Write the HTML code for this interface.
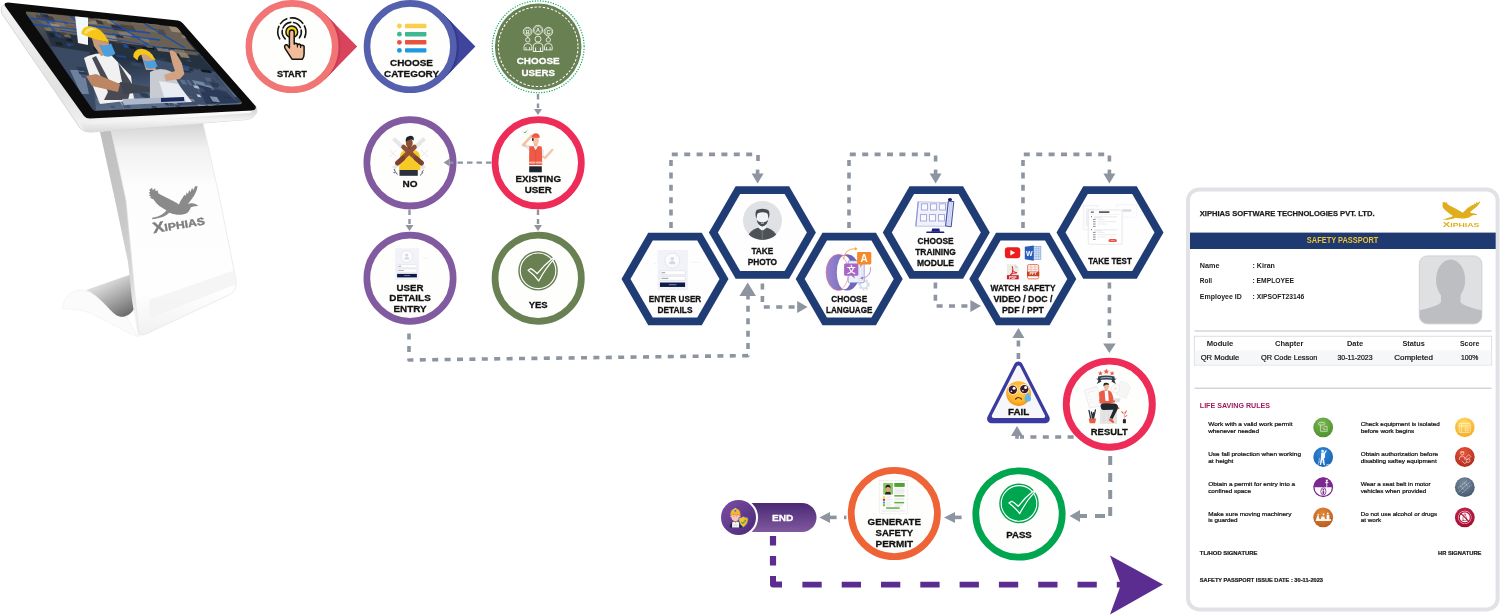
<!DOCTYPE html>
<html lang="en">
<head>
<meta charset="utf-8">
<title>Safety Induction Kiosk Flow</title>
<style>
html,body{margin:0;padding:0;background:#fff;}
body{width:1500px;height:615px;overflow:hidden;font-family:'Liberation Sans',sans-serif;}
svg{display:block;font-family:'Liberation Sans',sans-serif;will-change:transform;}
</style>
</head>
<body>
<svg width="1500" height="615" viewBox="0 0 1500 615">
<defs>
<linearGradient id="kside" x1="0" y1="0" x2="0.35" y2="1"><stop offset="0" stop-color="#BEBEBE"/><stop offset="0.55" stop-color="#C9C9C9"/><stop offset="0.85" stop-color="#DADADA"/><stop offset="1" stop-color="#F2F2F2"/></linearGradient>
<linearGradient id="kfront" x1="0" y1="0" x2="0" y2="1"><stop offset="0" stop-color="#D4D4D4"/><stop offset="0.12" stop-color="#F1F1F1"/><stop offset="0.3" stop-color="#FDFDFD"/><stop offset="0.8" stop-color="#FEFEFE"/><stop offset="1" stop-color="#F1F1F1"/></linearGradient>
<linearGradient id="kbase" x1="0.15" y1="0" x2="0.75" y2="1"><stop offset="0" stop-color="#FAFAFA"/><stop offset="0.35" stop-color="#CFCFCF"/><stop offset="0.7" stop-color="#9C9C9C"/><stop offset="1" stop-color="#6E6E6E"/></linearGradient>
<linearGradient id="kframe" x1="0" y1="0" x2="0.6" y2="1"><stop offset="0" stop-color="#F3F3F3"/><stop offset="0.6" stop-color="#E2E2E2"/><stop offset="1" stop-color="#FAFAFA"/></linearGradient>
<linearGradient id="kframeb" x1="0" y1="0" x2="0" y2="1"><stop offset="0" stop-color="#CFCFCF"/><stop offset="0.5" stop-color="#F4F4F4"/><stop offset="1" stop-color="#DADADA"/></linearGradient>
<linearGradient id="kscr" x1="0" y1="0" x2="0.25" y2="1"><stop offset="0" stop-color="#6F6558"/><stop offset="0.3" stop-color="#3E4650"/><stop offset="0.5" stop-color="#1E2A3A"/><stop offset="0.75" stop-color="#3B4B65"/><stop offset="1" stop-color="#5F718D"/></linearGradient>
<clipPath id="kclip"><path d="M27,11.5 L175,26.5 Q177,27 178,28.5 L241.5,102 Q242.5,104 240,104.3 L96,110.8 Q93.5,111 92.5,109 L26,13.5 Q25.5,11.5 27,11.5 Z"/></clipPath>
</defs>
<path d="M62,309 C64,298 70,290 80,290 C92,290 100,300 108,308 C114,315 120,318 126,316 L138,337 C120,330 100,316 84,311 C76,309 68,309 62,309 Z" fill="#FBFBFB" stroke="#EFEFEF" stroke-width="0.6"/>
<path d="M86,290 L132,274 L134,309 C130,316 122,319 116,315 C108,309 100,296 86,290 Z" fill="url(#kbase)"/>
<path d="M100,132 L111.5,130 L126,200 L140,260 L151,320 L146,330 L138,337 L132,300 L128,262 L115,200 Z" fill="url(#kside)"/>
<path d="M111,130 L203,123.5 L220,200 L236,280 Q237.5,290 230,294.5 L146,334 Q140,337 138.5,331 L126,200 Z" fill="url(#kfront)" stroke="#E4E4E4" stroke-width="0.7"/>
<path d="M149,300 L235,270 L236.5,284 L150,318 Z" fill="#F3F3F3" opacity="0.8"/>
<path d="M95,100 L125,80 L130,105 L155,85 L160,115 L180,105 L187,135 C230,160 300,195 340,215 C365,228 385,240 400,250 C410,225 420,205 432,190 L455,150 L465,165 L480,125 L490,145 L505,100 L515,125 L535,80 L545,105 L565,65 L590,65 C588,90 575,125 560,150 C545,175 515,215 490,245 C510,238 530,238 545,241 C565,243 585,250 596,266 L560,268 C545,270 530,274 520,282 C515,300 505,318 490,332 C470,348 420,358 380,355 C350,352 320,345 300,336 C285,350 265,365 250,372 C220,386 170,398 125,402 C125,392 128,388 132,385 C160,380 185,372 205,363 C230,352 255,335 270,310 C250,300 235,290 220,280 C200,265 185,255 170,240 C158,228 148,212 140,200 L105,185 L112,170 L92,160 L105,145 L90,130 L105,120 Z" fill="#8A8A8A" transform="translate(140,180) scale(0.09756)"/>
<text x="153.4" y="233.2" font-size="10.4" font-weight="bold" fill="#7E7E7E" stroke="#7E7E7E" stroke-width="0.35" transform="rotate(-9.5 153.4 233.2)" textLength="52.6" lengthAdjust="spacingAndGlyphs"><tspan font-size="15">X</tspan>IPHIAS</text>
<path d="M1.5,7 Q0.5,11 2,14 L80,128 Q84,132.5 92,132 L247,119.5 Q254,118.5 257,112 L256,106 L86,117 L6,3 Z" fill="url(#kframe)" stroke="#CFCFCF" stroke-width="0.8"/>
<path d="M78,120 L84,130 Q87,132.5 92,132 L247,119.5 Q254,118.5 257,112 L256,108 L250,113 L92,124 Z" fill="url(#kframeb)"/>
<path d="M8,2.5 L178,20.5 Q181,21 183,23.5 L255.5,106 Q257,109.5 252,110.5 L90,118.5 Q86,118.5 84,116 L5,6 Q3.5,2.5 8,2.5 Z" fill="#0C0C0D"/>
<g clip-path="url(#kclip)">
<rect x="20" y="5" width="230" height="112" fill="url(#kscr)"/>
<path d="M28,12 L176,27 L195,50 L60,38 Z" fill="#6B6054"/>
<path d="M28,18 L150,33 M40,12 L60,38 M70,16 L100,40 M110,20 L150,46 M145,24 L185,48 M30,24 L160,40" stroke="#1D4FA8" stroke-width="1.3" fill="none"/>
<path d="M45,30 L200,56 L215,72 L52,46 Z" fill="#26313F"/>
<path d="M50,46 L90,52 L96,110 L88,111 Z" fill="#3A4A63"/>
<path d="M70,70 L84,70 L89,94 L81,94 Z" fill="#6E819C"/>
<path d="M150,58 L214,72 L240,103 L170,106 Z" fill="#3F4F69"/>
<path d="M192,80 L208,83 L222,97 L204,99 Z" fill="#7387A3"/>
<path d="M196,84 L226,92 L238,103 L206,104 Z" fill="#2A3A58"/>
<rect x="93.95" y="25.39" width="10.86" height="2.22" fill="#A39480" opacity="0.7" transform="rotate(6 93.95 25.39) skewX(38)"/><rect x="102.99" y="15.92" width="9.57" height="2.11" fill="#4A433B" opacity="0.85" transform="rotate(6 102.99 15.92) skewX(38)"/><rect x="39.09" y="19.25" width="8.82" height="4.48" fill="#8C7D69" opacity="0.7" transform="rotate(6 39.09 19.25) skewX(38)"/><rect x="160.22" y="69.47" width="2.9" height="4.13" fill="#34445E" opacity="0.7" transform="rotate(6 160.22 69.47) skewX(38)"/><rect x="34.06" y="97.56" width="4.38" height="2.15" fill="#46566F" opacity="1" transform="rotate(6 34.06 97.56) skewX(38)"/><rect x="90.63" y="93.24" width="3.67" height="4.12" fill="#2B3950" opacity="0.85" transform="rotate(6 90.63 93.24) skewX(38)"/><rect x="45.05" y="82.64" width="6.17" height="4.29" fill="#3E4D66" opacity="1" transform="rotate(6 45.05 82.64) skewX(38)"/><rect x="138.85" y="89.28" width="5.53" height="5.66" fill="#1F2C42" opacity="0.85" transform="rotate(6 138.85 89.28) skewX(38)"/><rect x="77.66" y="28.34" width="12.02" height="2.25" fill="#6E6355" opacity="1" transform="rotate(6 77.66 28.34) skewX(38)"/><rect x="130.95" y="45.03" width="9.04" height="3.83" fill="#8C7D69" opacity="0.7" transform="rotate(6 130.95 45.03) skewX(38)"/><rect x="134.58" y="26.83" width="8.08" height="4.8" fill="#4A433B" opacity="0.7" transform="rotate(6 134.58 26.83) skewX(38)"/><rect x="231.8" y="17.92" width="10.02" height="4.37" fill="#7A6C5B" opacity="0.85" transform="rotate(6 231.8 17.92) skewX(38)"/><rect x="97.47" y="45.72" width="7.97" height="3.03" fill="#17212E" opacity="0.7" transform="rotate(6 97.47 45.72) skewX(38)"/><rect x="228.05" y="58.36" width="10.98" height="2.18" fill="#2E2F36" opacity="0.85" transform="rotate(6 228.05 58.36) skewX(38)"/><rect x="163.78" y="111.3" width="7.84" height="2.78" fill="#B9C8DC" opacity="1" transform="rotate(6 163.78 111.3) skewX(38)"/><rect x="98.95" y="105.95" width="4.81" height="4.25" fill="#3E4D66" opacity="0.7" transform="rotate(6 98.95 105.95) skewX(38)"/><rect x="71.13" y="39.32" width="9.91" height="2.12" fill="#1B4C9E" opacity="0.7" transform="rotate(6 71.13 39.32) skewX(38)"/><rect x="59.94" y="50.97" width="6.22" height="1.51" fill="#1B4C9E" opacity="1" transform="rotate(6 59.94 50.97) skewX(38)"/><rect x="84.14" y="52.36" width="6.87" height="3.23" fill="#223046" opacity="0.7" transform="rotate(6 84.14 52.36) skewX(38)"/><rect x="41.92" y="25.43" width="10.93" height="2.04" fill="#7A6C5B" opacity="1" transform="rotate(6 41.92 25.43) skewX(38)"/><rect x="63.39" y="38.76" width="5.17" height="2.43" fill="#3A4A60" opacity="1" transform="rotate(6 63.39 38.76) skewX(38)"/><rect x="92.82" y="22.8" width="12.73" height="4.85" fill="#2E2F36" opacity="1" transform="rotate(6 92.82 22.8) skewX(38)"/><rect x="183.79" y="56.58" width="10.97" height="3.39" fill="#101820" opacity="1" transform="rotate(6 183.79 56.58) skewX(38)"/><rect x="108.75" y="50.7" width="4.83" height="2.66" fill="#17212E" opacity="0.7" transform="rotate(6 108.75 50.7) skewX(38)"/><rect x="38.55" y="31.29" width="6.46" height="3.02" fill="#8C7D69" opacity="0.7" transform="rotate(6 38.55 31.29) skewX(38)"/><rect x="24.05" y="25.43" width="5.91" height="3.09" fill="#8C7D69" opacity="0.7" transform="rotate(6 24.05 25.43) skewX(38)"/><rect x="212.86" y="72.64" width="5.19" height="1.78" fill="#2C3D58" opacity="1" transform="rotate(6 212.86 72.64) skewX(38)"/><rect x="102.66" y="22.53" width="12.64" height="4.98" fill="#4A433B" opacity="0.85" transform="rotate(6 102.66 22.53) skewX(38)"/><rect x="128.51" y="18.76" width="5.92" height="3.03" fill="#6E6355" opacity="0.85" transform="rotate(6 128.51 18.76) skewX(38)"/><rect x="203.03" y="26.47" width="5.21" height="4.85" fill="#A39480" opacity="0.85" transform="rotate(6 203.03 26.47) skewX(38)"/><rect x="55.67" y="65.4" width="2.68" height="3.88" fill="#46566F" opacity="1" transform="rotate(6 55.67 65.4) skewX(38)"/><rect x="206.62" y="62.88" width="11.27" height="2.02" fill="#223046" opacity="1" transform="rotate(6 206.62 62.88) skewX(38)"/><rect x="140.98" y="61.28" width="9.09" height="2.61" fill="#223046" opacity="0.7" transform="rotate(6 140.98 61.28) skewX(38)"/><rect x="200.76" y="85.47" width="3.97" height="3.83" fill="#1F2C42" opacity="1" transform="rotate(6 200.76 85.47) skewX(38)"/><rect x="30.26" y="12.85" width="7.51" height="2.78" fill="#2E2F36" opacity="1" transform="rotate(6 30.26 12.85) skewX(38)"/><rect x="230.61" y="55.62" width="13.43" height="4.96" fill="#6E6355" opacity="0.7" transform="rotate(6 230.61 55.62) skewX(38)"/><rect x="71.62" y="33.14" width="6.77" height="2.61" fill="#A39480" opacity="1" transform="rotate(6 71.62 33.14) skewX(38)"/><rect x="205.53" y="58.91" width="9.22" height="3.04" fill="#17212E" opacity="1" transform="rotate(6 205.53 58.91) skewX(38)"/><rect x="49.9" y="49.63" width="9.69" height="1.66" fill="#223046" opacity="0.85" transform="rotate(6 49.9 49.63) skewX(38)"/><rect x="194.45" y="43.92" width="12.21" height="4.91" fill="#4A433B" opacity="0.85" transform="rotate(6 194.45 43.92) skewX(38)"/><rect x="110.7" y="106.57" width="7.21" height="2.27" fill="#5C6E88" opacity="0.7" transform="rotate(6 110.7 106.57) skewX(38)"/><rect x="56.65" y="102.29" width="7.74" height="2.16" fill="#27354C" opacity="0.85" transform="rotate(6 56.65 102.29) skewX(38)"/><rect x="165.97" y="45.74" width="9.94" height="2.39" fill="#8C7D69" opacity="1" transform="rotate(6 165.97 45.74) skewX(38)"/><rect x="164.33" y="63.71" width="11.47" height="2.2" fill="#223046" opacity="0.7" transform="rotate(6 164.33 63.71) skewX(38)"/><rect x="30.05" y="31.7" width="8.01" height="2.96" fill="#2C3D58" opacity="0.85" transform="rotate(6 30.05 31.7) skewX(38)"/><rect x="141.58" y="95.09" width="2.9" height="4.83" fill="#3E4D66" opacity="1" transform="rotate(6 141.58 95.09) skewX(38)"/><rect x="150" y="102.24" width="5.23" height="5.63" fill="#74869F" opacity="0.7" transform="rotate(6 150 102.24) skewX(38)"/><rect x="138.87" y="63.4" width="4.15" height="2.21" fill="#223046" opacity="1" transform="rotate(6 138.87 63.4) skewX(38)"/><rect x="24.85" y="91.52" width="3.62" height="3.63" fill="#46566F" opacity="1" transform="rotate(6 24.85 91.52) skewX(38)"/><rect x="37.34" y="79.6" width="5.95" height="3.67" fill="#46566F" opacity="1" transform="rotate(6 37.34 79.6) skewX(38)"/><rect x="36.27" y="29.51" width="5.38" height="2.29" fill="#4A433B" opacity="1" transform="rotate(6 36.27 29.51) skewX(38)"/><rect x="30.02" y="101.19" width="2.91" height="2.97" fill="#74869F" opacity="1" transform="rotate(6 30.02 101.19) skewX(38)"/><rect x="134.63" y="80.66" width="5.44" height="3.9" fill="#3E4D66" opacity="1" transform="rotate(6 134.63 80.66) skewX(38)"/><rect x="227.36" y="81.32" width="8.2" height="5.74" fill="#8FA2BD" opacity="1" transform="rotate(6 227.36 81.32) skewX(38)"/><rect x="216.84" y="30.66" width="9.03" height="3.25" fill="#4A433B" opacity="0.85" transform="rotate(6 216.84 30.66) skewX(38)"/><rect x="92.25" y="78.46" width="5.28" height="2.46" fill="#8FA2BD" opacity="0.7" transform="rotate(6 92.25 78.46) skewX(38)"/><rect x="217.76" y="25.75" width="11.45" height="3.98" fill="#9A8A74" opacity="0.85" transform="rotate(6 217.76 25.75) skewX(38)"/><rect x="214.69" y="108.69" width="3.93" height="5.79" fill="#B9C8DC" opacity="0.85" transform="rotate(6 214.69 108.69) skewX(38)"/><rect x="59.16" y="78.12" width="3.95" height="4.68" fill="#74869F" opacity="0.85" transform="rotate(6 59.16 78.12) skewX(38)"/><rect x="97.25" y="29.97" width="7.87" height="4.17" fill="#8C7D69" opacity="0.85" transform="rotate(6 97.25 29.97) skewX(38)"/><rect x="143.67" y="54.93" width="4.14" height="1.96" fill="#3A4A60" opacity="0.85" transform="rotate(6 143.67 54.93) skewX(38)"/><rect x="134.65" y="16.56" width="13.87" height="4.37" fill="#8C7D69" opacity="0.7" transform="rotate(6 134.65 16.56) skewX(38)"/><rect x="81.36" y="14.04" width="12.01" height="2.81" fill="#9A8A74" opacity="0.85" transform="rotate(6 81.36 14.04) skewX(38)"/><rect x="207.51" y="78.95" width="8.65" height="3.33" fill="#74869F" opacity="1" transform="rotate(6 207.51 78.95) skewX(38)"/><rect x="147.25" y="81.44" width="3.08" height="1.76" fill="#5C6E88" opacity="0.85" transform="rotate(6 147.25 81.44) skewX(38)"/><rect x="217.38" y="37.43" width="5.15" height="2.27" fill="#6E6355" opacity="0.7" transform="rotate(6 217.38 37.43) skewX(38)"/><rect x="155.37" y="32.69" width="7.38" height="2.37" fill="#8C7D69" opacity="0.85" transform="rotate(6 155.37 32.69) skewX(38)"/><rect x="238.77" y="52.61" width="13.24" height="3.87" fill="#8C7D69" opacity="1" transform="rotate(6 238.77 52.61) skewX(38)"/><rect x="177.26" y="105.69" width="8.8" height="2.68" fill="#5C6E88" opacity="0.7" transform="rotate(6 177.26 105.69) skewX(38)"/><rect x="225.37" y="74.12" width="8.25" height="1.67" fill="#1B4C9E" opacity="1" transform="rotate(6 225.37 74.12) skewX(38)"/><rect x="169.19" y="37.59" width="12.23" height="4.98" fill="#8C7D69" opacity="0.7" transform="rotate(6 169.19 37.59) skewX(38)"/><rect x="27.98" y="61.58" width="8.86" height="3.81" fill="#2B3950" opacity="0.85" transform="rotate(6 27.98 61.58) skewX(38)"/><rect x="46.96" y="93.53" width="5.31" height="3.73" fill="#B9C8DC" opacity="1" transform="rotate(6 46.96 93.53) skewX(38)"/><rect x="90.48" y="31.95" width="7.07" height="2.6" fill="#2E2F36" opacity="1" transform="rotate(6 90.48 31.95) skewX(38)"/><rect x="161.37" y="51.28" width="8.13" height="2.16" fill="#9A8A74" opacity="0.7" transform="rotate(6 161.37 51.28) skewX(38)"/><rect x="39.28" y="85.57" width="4.16" height="2.23" fill="#46566F" opacity="1" transform="rotate(6 39.28 85.57) skewX(38)"/><rect x="205.71" y="98.79" width="6.86" height="2.77" fill="#2B3950" opacity="1" transform="rotate(6 205.71 98.79) skewX(38)"/><rect x="87.3" y="56.86" width="5.26" height="2.23" fill="#2C3D58" opacity="0.85" transform="rotate(6 87.3 56.86) skewX(38)"/><rect x="231.75" y="109.21" width="6.06" height="2.6" fill="#8FA2BD" opacity="0.7" transform="rotate(6 231.75 109.21) skewX(38)"/><rect x="101.02" y="10.11" width="8.43" height="3.42" fill="#A39480" opacity="1" transform="rotate(6 101.02 10.11) skewX(38)"/><rect x="67.41" y="61.48" width="2.53" height="2.69" fill="#46566F" opacity="0.7" transform="rotate(6 67.41 61.48) skewX(38)"/><rect x="110.29" y="14.25" width="5.2" height="2.91" fill="#9A8A74" opacity="0.7" transform="rotate(6 110.29 14.25) skewX(38)"/><rect x="150.49" y="63.98" width="10" height="2.71" fill="#101820" opacity="1" transform="rotate(6 150.49 63.98) skewX(38)"/><rect x="108.14" y="43.27" width="11.88" height="1.54" fill="#101820" opacity="1" transform="rotate(6 108.14 43.27) skewX(38)"/><rect x="162.94" y="14.47" width="12.52" height="4.68" fill="#2E2F36" opacity="0.85" transform="rotate(6 162.94 14.47) skewX(38)"/><rect x="182.51" y="92.85" width="3.41" height="3.86" fill="#74869F" opacity="1" transform="rotate(6 182.51 92.85) skewX(38)"/><rect x="204.35" y="92.08" width="7.87" height="4.13" fill="#2B3950" opacity="0.7" transform="rotate(6 204.35 92.08) skewX(38)"/><rect x="30.73" y="23.58" width="8.25" height="2.31" fill="#7A6C5B" opacity="0.85" transform="rotate(6 30.73 23.58) skewX(38)"/><rect x="144.64" y="74.03" width="6.57" height="4.56" fill="#3E4D66" opacity="0.85" transform="rotate(6 144.64 74.03) skewX(38)"/><rect x="24.72" y="91.37" width="7.36" height="3.76" fill="#74869F" opacity="0.7" transform="rotate(6 24.72 91.37) skewX(38)"/><rect x="166.41" y="16.74" width="11.63" height="2.76" fill="#8C7D69" opacity="0.85" transform="rotate(6 166.41 16.74) skewX(38)"/><rect x="74.71" y="87.16" width="4" height="4.42" fill="#3E4D66" opacity="0.85" transform="rotate(6 74.71 87.16) skewX(38)"/><rect x="206.63" y="17.83" width="13.19" height="2.86" fill="#8C7D69" opacity="1" transform="rotate(6 206.63 17.83) skewX(38)"/><rect x="160.68" y="30.23" width="10.4" height="3" fill="#2E2F36" opacity="1" transform="rotate(6 160.68 30.23) skewX(38)"/><rect x="173.66" y="73.36" width="3.37" height="3.67" fill="#3E4D66" opacity="0.85" transform="rotate(6 173.66 73.36) skewX(38)"/><rect x="234.06" y="20.15" width="6.96" height="3.47" fill="#2E2F36" opacity="1" transform="rotate(6 234.06 20.15) skewX(38)"/><rect x="85.68" y="57.52" width="10.14" height="3.48" fill="#3A4A60" opacity="0.7" transform="rotate(6 85.68 57.52) skewX(38)"/><rect x="91.32" y="18.76" width="9.26" height="2.87" fill="#8C7D69" opacity="1" transform="rotate(6 91.32 18.76) skewX(38)"/><rect x="233.11" y="55.84" width="7.42" height="2.63" fill="#9A8A74" opacity="0.7" transform="rotate(6 233.11 55.84) skewX(38)"/><rect x="149.6" y="24.46" width="9.72" height="4.86" fill="#9A8A74" opacity="1" transform="rotate(6 149.6 24.46) skewX(38)"/><rect x="201.17" y="61.89" width="11.09" height="2.82" fill="#223046" opacity="0.85" transform="rotate(6 201.17 61.89) skewX(38)"/><rect x="217.9" y="59.59" width="5.22" height="2.01" fill="#4A433B" opacity="1" transform="rotate(6 217.9 59.59) skewX(38)"/><rect x="121.36" y="40.8" width="6.27" height="3.03" fill="#6E6355" opacity="0.7" transform="rotate(6 121.36 40.8) skewX(38)"/><rect x="205.49" y="10.18" width="11.76" height="4.52" fill="#8C7D69" opacity="0.7" transform="rotate(6 205.49 10.18) skewX(38)"/><rect x="178.01" y="101.96" width="4.38" height="3.17" fill="#B9C8DC" opacity="0.85" transform="rotate(6 178.01 101.96) skewX(38)"/><rect x="239.74" y="70.1" width="6.89" height="2.18" fill="#2C3D58" opacity="0.7" transform="rotate(6 239.74 70.1) skewX(38)"/><rect x="84.62" y="15.26" width="10.96" height="3.9" fill="#9A8A74" opacity="0.7" transform="rotate(6 84.62 15.26) skewX(38)"/><rect x="233.74" y="54.5" width="7.84" height="4.32" fill="#7A6C5B" opacity="0.85" transform="rotate(6 233.74 54.5) skewX(38)"/><rect x="215" y="92.82" width="6.6" height="5.61" fill="#74869F" opacity="1" transform="rotate(6 215 92.82) skewX(38)"/><rect x="67.94" y="18.22" width="13.4" height="3.23" fill="#A39480" opacity="0.7" transform="rotate(6 67.94 18.22) skewX(38)"/><rect x="163.21" y="39.19" width="5.44" height="4.78" fill="#9A8A74" opacity="0.7" transform="rotate(6 163.21 39.19) skewX(38)"/><rect x="125.99" y="45.05" width="7.68" height="4.22" fill="#2E2F36" opacity="0.85" transform="rotate(6 125.99 45.05) skewX(38)"/><rect x="111.74" y="34.34" width="9.35" height="4.01" fill="#8C7D69" opacity="0.7" transform="rotate(6 111.74 34.34) skewX(38)"/><rect x="162.93" y="17.67" width="9.51" height="4.44" fill="#A39480" opacity="0.7" transform="rotate(6 162.93 17.67) skewX(38)"/><rect x="121.84" y="43.95" width="11.83" height="3.28" fill="#A39480" opacity="0.7" transform="rotate(6 121.84 43.95) skewX(38)"/><rect x="76.72" y="27.82" width="10" height="2.96" fill="#6E6355" opacity="0.85" transform="rotate(6 76.72 27.82) skewX(38)"/><rect x="198.82" y="30.62" width="5.18" height="4.61" fill="#4A433B" opacity="0.85" transform="rotate(6 198.82 30.62) skewX(38)"/><rect x="185.1" y="31.42" width="7.43" height="4.26" fill="#4A433B" opacity="0.85" transform="rotate(6 185.1 31.42) skewX(38)"/><rect x="148.04" y="46.73" width="11.18" height="3.59" fill="#7A6C5B" opacity="0.7" transform="rotate(6 148.04 46.73) skewX(38)"/><rect x="44" y="101.47" width="5" height="4.41" fill="#B9C8DC" opacity="0.85" transform="rotate(6 44 101.47) skewX(38)"/><rect x="207.32" y="99.03" width="2.64" height="1.65" fill="#3E4D66" opacity="1" transform="rotate(6 207.32 99.03) skewX(38)"/><rect x="129.8" y="17.46" width="13.37" height="4.78" fill="#A39480" opacity="0.85" transform="rotate(6 129.8 17.46) skewX(38)"/><rect x="234" y="35.34" width="5.98" height="2.46" fill="#A39480" opacity="1" transform="rotate(6 234 35.34) skewX(38)"/><rect x="47.52" y="94.19" width="7.06" height="5.31" fill="#3E4D66" opacity="0.7" transform="rotate(6 47.52 94.19) skewX(38)"/><rect x="143.12" y="14.03" width="12.04" height="2.7" fill="#8C7D69" opacity="1" transform="rotate(6 143.12 14.03) skewX(38)"/><rect x="178.44" y="108.17" width="6.57" height="3.88" fill="#B9C8DC" opacity="1" transform="rotate(6 178.44 108.17) skewX(38)"/><rect x="188.99" y="20.14" width="7.7" height="4.83" fill="#9A8A74" opacity="0.85" transform="rotate(6 188.99 20.14) skewX(38)"/><rect x="80.35" y="90.63" width="2.51" height="3.92" fill="#3E4D66" opacity="0.85" transform="rotate(6 80.35 90.63) skewX(38)"/><rect x="231.13" y="75.75" width="11.07" height="2.29" fill="#223046" opacity="1" transform="rotate(6 231.13 75.75) skewX(38)"/><rect x="77.36" y="107.98" width="7.08" height="2.88" fill="#34445E" opacity="0.7" transform="rotate(6 77.36 107.98) skewX(38)"/><rect x="131.64" y="78.8" width="5.23" height="2.66" fill="#B9C8DC" opacity="0.85" transform="rotate(6 131.64 78.8) skewX(38)"/><rect x="72.99" y="13.48" width="8.04" height="3.26" fill="#2E2F36" opacity="0.85" transform="rotate(6 72.99 13.48) skewX(38)"/><rect x="66.79" y="91.3" width="7.3" height="3.77" fill="#2B3950" opacity="0.85" transform="rotate(6 66.79 91.3) skewX(38)"/><rect x="233.49" y="41.8" width="12.38" height="2.69" fill="#9A8A74" opacity="0.85" transform="rotate(6 233.49 41.8) skewX(38)"/><rect x="188.26" y="40.08" width="13.57" height="3.49" fill="#9A8A74" opacity="0.7" transform="rotate(6 188.26 40.08) skewX(38)"/><rect x="128.77" y="102.86" width="2.87" height="4.18" fill="#B9C8DC" opacity="0.7" transform="rotate(6 128.77 102.86) skewX(38)"/><rect x="70" y="109.36" width="3.42" height="1.73" fill="#34445E" opacity="0.7" transform="rotate(6 70 109.36) skewX(38)"/><rect x="108.96" y="101.61" width="8.24" height="4.8" fill="#46566F" opacity="0.7" transform="rotate(6 108.96 101.61) skewX(38)"/><rect x="95.12" y="28.92" width="13.42" height="4.24" fill="#8C7D69" opacity="0.85" transform="rotate(6 95.12 28.92) skewX(38)"/><rect x="167.52" y="48.62" width="8.36" height="3" fill="#9A8A74" opacity="0.7" transform="rotate(6 167.52 48.62) skewX(38)"/><rect x="24.62" y="38.54" width="6.81" height="3.4" fill="#17212E" opacity="1" transform="rotate(6 24.62 38.54) skewX(38)"/><rect x="232.28" y="31.16" width="8.21" height="4.46" fill="#7A6C5B" opacity="0.85" transform="rotate(6 232.28 31.16) skewX(38)"/><rect x="42.96" y="81.94" width="3.77" height="3.94" fill="#3E4D66" opacity="0.7" transform="rotate(6 42.96 81.94) skewX(38)"/><rect x="93.83" y="85.21" width="5.58" height="4.34" fill="#2B3950" opacity="1" transform="rotate(6 93.83 85.21) skewX(38)"/><rect x="189.6" y="14.15" width="5.31" height="2.19" fill="#8C7D69" opacity="0.85" transform="rotate(6 189.6 14.15) skewX(38)"/><rect x="66.11" y="16.41" width="10.45" height="3.09" fill="#6E6355" opacity="1" transform="rotate(6 66.11 16.41) skewX(38)"/><rect x="33.41" y="86.14" width="6.98" height="5.66" fill="#8FA2BD" opacity="0.7" transform="rotate(6 33.41 86.14) skewX(38)"/><rect x="179.86" y="70.75" width="7.74" height="5.76" fill="#46566F" opacity="0.7" transform="rotate(6 179.86 70.75) skewX(38)"/><rect x="202.42" y="20.94" width="11.44" height="3.4" fill="#7A6C5B" opacity="0.85" transform="rotate(6 202.42 20.94) skewX(38)"/><rect x="194.6" y="103.18" width="7.8" height="2.1" fill="#3E4D66" opacity="0.7" transform="rotate(6 194.6 103.18) skewX(38)"/><rect x="25.88" y="104.97" width="4.47" height="4.61" fill="#5C6E88" opacity="1" transform="rotate(6 25.88 104.97) skewX(38)"/><rect x="75.01" y="97.85" width="5.5" height="5.03" fill="#27354C" opacity="0.7" transform="rotate(6 75.01 97.85) skewX(38)"/><rect x="134.57" y="49.95" width="5.28" height="2.14" fill="#101820" opacity="0.7" transform="rotate(6 134.57 49.95) skewX(38)"/><rect x="128.05" y="65.55" width="3.54" height="3.42" fill="#46566F" opacity="0.7" transform="rotate(6 128.05 65.55) skewX(38)"/><rect x="81.22" y="18.58" width="5.87" height="3.5" fill="#2E2F36" opacity="0.85" transform="rotate(6 81.22 18.58) skewX(38)"/><rect x="61.41" y="23.56" width="9.15" height="4.67" fill="#9A8A74" opacity="1" transform="rotate(6 61.41 23.56) skewX(38)"/><rect x="140.33" y="88.94" width="7.44" height="5.01" fill="#8FA2BD" opacity="0.85" transform="rotate(6 140.33 88.94) skewX(38)"/><rect x="84.35" y="37.3" width="7.29" height="2.78" fill="#4A433B" opacity="0.7" transform="rotate(6 84.35 37.3) skewX(38)"/><rect x="64.12" y="34.02" width="7.53" height="4.72" fill="#9A8A74" opacity="0.85" transform="rotate(6 64.12 34.02) skewX(38)"/><rect x="38" y="35.67" width="5.97" height="2.41" fill="#101820" opacity="0.7" transform="rotate(6 38 35.67) skewX(38)"/><rect x="165.12" y="111.08" width="3.17" height="3.64" fill="#2B3950" opacity="0.85" transform="rotate(6 165.12 111.08) skewX(38)"/><rect x="221.51" y="14.12" width="7.64" height="2.36" fill="#9A8A74" opacity="1" transform="rotate(6 221.51 14.12) skewX(38)"/><rect x="234.16" y="69.49" width="11.44" height="2.06" fill="#223046" opacity="0.85" transform="rotate(6 234.16 69.49) skewX(38)"/><rect x="154.26" y="89.05" width="6.82" height="1.53" fill="#27354C" opacity="1" transform="rotate(6 154.26 89.05) skewX(38)"/><rect x="157.91" y="32.2" width="8.32" height="2.42" fill="#9A8A74" opacity="0.85" transform="rotate(6 157.91 32.2) skewX(38)"/><rect x="32.26" y="84.69" width="8.44" height="5.17" fill="#1F2C42" opacity="0.85" transform="rotate(6 32.26 84.69) skewX(38)"/><rect x="170.52" y="28.88" width="7.81" height="2.61" fill="#7A6C5B" opacity="0.85" transform="rotate(6 170.52 28.88) skewX(38)"/><rect x="142.38" y="16.45" width="5.91" height="3.19" fill="#A39480" opacity="0.7" transform="rotate(6 142.38 16.45) skewX(38)"/><rect x="162.06" y="19.3" width="6.47" height="4.09" fill="#4A433B" opacity="0.85" transform="rotate(6 162.06 19.3) skewX(38)"/><rect x="168.25" y="52.62" width="5.46" height="4.24" fill="#6E6355" opacity="0.85" transform="rotate(6 168.25 52.62) skewX(38)"/><rect x="113.95" y="98.15" width="8.98" height="3.14" fill="#2B3950" opacity="0.85" transform="rotate(6 113.95 98.15) skewX(38)"/><rect x="181.25" y="30.77" width="5.05" height="4.7" fill="#4A433B" opacity="0.7" transform="rotate(6 181.25 30.77) skewX(38)"/><rect x="201.2" y="51.43" width="12.95" height="3.38" fill="#9A8A74" opacity="0.7" transform="rotate(6 201.2 51.43) skewX(38)"/><rect x="27.2" y="66.26" width="6.66" height="5.59" fill="#46566F" opacity="1" transform="rotate(6 27.2 66.26) skewX(38)"/><rect x="158.39" y="47.83" width="9.54" height="2.44" fill="#6E6355" opacity="0.7" transform="rotate(6 158.39 47.83) skewX(38)"/><rect x="136.57" y="104.4" width="3.21" height="3.71" fill="#2B3950" opacity="0.85" transform="rotate(6 136.57 104.4) skewX(38)"/><rect x="51.36" y="106.19" width="8.84" height="3.67" fill="#34445E" opacity="1" transform="rotate(6 51.36 106.19) skewX(38)"/><rect x="224.05" y="49.57" width="13.14" height="3.86" fill="#7A6C5B" opacity="0.7" transform="rotate(6 224.05 49.57) skewX(38)"/><rect x="162.31" y="97.37" width="6.54" height="4.27" fill="#2B3950" opacity="0.85" transform="rotate(6 162.31 97.37) skewX(38)"/><rect x="63.52" y="32.25" width="8.6" height="3.55" fill="#4A433B" opacity="0.85" transform="rotate(6 63.52 32.25) skewX(38)"/><rect x="50.58" y="35.2" width="9.8" height="3.26" fill="#17212E" opacity="1" transform="rotate(6 50.58 35.2) skewX(38)"/><rect x="205.98" y="78.57" width="6.84" height="2.96" fill="#B9C8DC" opacity="1" transform="rotate(6 205.98 78.57) skewX(38)"/><rect x="122.44" y="96.6" width="7.56" height="4.42" fill="#8FA2BD" opacity="1" transform="rotate(6 122.44 96.6) skewX(38)"/><rect x="77.84" y="49.7" width="6.94" height="2.36" fill="#223046" opacity="0.7" transform="rotate(6 77.84 49.7) skewX(38)"/><rect x="24.76" y="110.59" width="5.52" height="3.51" fill="#27354C" opacity="0.85" transform="rotate(6 24.76 110.59) skewX(38)"/><rect x="204.69" y="92.67" width="5.1" height="1.8" fill="#1F2C42" opacity="0.85" transform="rotate(6 204.69 92.67) skewX(38)"/><rect x="102.91" y="91.83" width="5.78" height="4.46" fill="#34445E" opacity="1" transform="rotate(6 102.91 91.83) skewX(38)"/><rect x="52.14" y="104.06" width="4.54" height="4.74" fill="#46566F" opacity="0.7" transform="rotate(6 52.14 104.06) skewX(38)"/><rect x="186.44" y="101.28" width="6.74" height="5.03" fill="#34445E" opacity="0.7" transform="rotate(6 186.44 101.28) skewX(38)"/><rect x="239.16" y="84.67" width="7.8" height="2.37" fill="#3E4D66" opacity="0.85" transform="rotate(6 239.16 84.67) skewX(38)"/><rect x="230.63" y="103.44" width="3.57" height="5.05" fill="#2B3950" opacity="0.7" transform="rotate(6 230.63 103.44) skewX(38)"/><rect x="203.94" y="72.27" width="6.02" height="1.94" fill="#3A4A60" opacity="0.85" transform="rotate(6 203.94 72.27) skewX(38)"/><rect x="219.49" y="56.55" width="7.29" height="4.89" fill="#4A433B" opacity="0.7" transform="rotate(6 219.49 56.55) skewX(38)"/><rect x="151.85" y="72.82" width="4.04" height="3.18" fill="#2B3950" opacity="0.7" transform="rotate(6 151.85 72.82) skewX(38)"/><rect x="111.15" y="74.93" width="4.31" height="2.98" fill="#B9C8DC" opacity="0.7" transform="rotate(6 111.15 74.93) skewX(38)"/><rect x="195.1" y="36.96" width="11.91" height="2.15" fill="#7A6C5B" opacity="0.85" transform="rotate(6 195.1 36.96) skewX(38)"/><rect x="232.69" y="56.21" width="9.69" height="4.07" fill="#8C7D69" opacity="0.85" transform="rotate(6 232.69 56.21) skewX(38)"/><rect x="238.48" y="74.24" width="7.15" height="3.03" fill="#2C3D58" opacity="0.85" transform="rotate(6 238.48 74.24) skewX(38)"/><rect x="237.95" y="68.89" width="6.88" height="2.96" fill="#1B4C9E" opacity="0.7" transform="rotate(6 237.95 68.89) skewX(38)"/><rect x="62.18" y="85.85" width="2.81" height="5.19" fill="#8FA2BD" opacity="0.85" transform="rotate(6 62.18 85.85) skewX(38)"/><rect x="162.08" y="110.37" width="6.31" height="4.49" fill="#1F2C42" opacity="1" transform="rotate(6 162.08 110.37) skewX(38)"/><rect x="24.39" y="13.45" width="6.34" height="3.85" fill="#4A433B" opacity="0.85" transform="rotate(6 24.39 13.45) skewX(38)"/><rect x="134.74" y="101.35" width="3.36" height="2.52" fill="#34445E" opacity="0.7" transform="rotate(6 134.74 101.35) skewX(38)"/><rect x="35.75" y="67.85" width="4.47" height="3.85" fill="#74869F" opacity="0.7" transform="rotate(6 35.75 67.85) skewX(38)"/><rect x="113.26" y="40.72" width="6.2" height="3.1" fill="#7A6C5B" opacity="0.85" transform="rotate(6 113.26 40.72) skewX(38)"/><rect x="58.26" y="11.44" width="12.21" height="4.12" fill="#4A433B" opacity="0.7" transform="rotate(6 58.26 11.44) skewX(38)"/><rect x="37.75" y="24.76" width="10.99" height="2.81" fill="#7A6C5B" opacity="0.85" transform="rotate(6 37.75 24.76) skewX(38)"/><rect x="232.9" y="15.73" width="12.39" height="4.68" fill="#A39480" opacity="1" transform="rotate(6 232.9 15.73) skewX(38)"/><rect x="148.95" y="71.39" width="5.86" height="3.72" fill="#5C6E88" opacity="0.7" transform="rotate(6 148.95 71.39) skewX(38)"/><rect x="33.5" y="64.22" width="5.14" height="2.57" fill="#34445E" opacity="0.7" transform="rotate(6 33.5 64.22) skewX(38)"/><rect x="26.67" y="66.19" width="8.62" height="2.14" fill="#2B3950" opacity="1" transform="rotate(6 26.67 66.19) skewX(38)"/><rect x="155.35" y="61.71" width="9.13" height="3.07" fill="#223046" opacity="1" transform="rotate(6 155.35 61.71) skewX(38)"/><rect x="90.83" y="40.63" width="4.39" height="3.25" fill="#1B4C9E" opacity="1" transform="rotate(6 90.83 40.63) skewX(38)"/><rect x="140.3" y="48.27" width="8.93" height="4.74" fill="#8C7D69" opacity="1" transform="rotate(6 140.3 48.27) skewX(38)"/><rect x="165.59" y="27.89" width="13.97" height="2.78" fill="#2E2F36" opacity="0.7" transform="rotate(6 165.59 27.89) skewX(38)"/><rect x="50.63" y="100.91" width="8.51" height="5.74" fill="#8FA2BD" opacity="1" transform="rotate(6 50.63 100.91) skewX(38)"/><rect x="35.35" y="74.86" width="6.92" height="4.59" fill="#74869F" opacity="0.85" transform="rotate(6 35.35 74.86) skewX(38)"/><rect x="87.85" y="104.71" width="8.31" height="1.88" fill="#74869F" opacity="0.7" transform="rotate(6 87.85 104.71) skewX(38)"/><rect x="60.67" y="102.28" width="7.97" height="2.41" fill="#5C6E88" opacity="1" transform="rotate(6 60.67 102.28) skewX(38)"/><rect x="221.63" y="29.58" width="8.5" height="3.8" fill="#4A433B" opacity="1" transform="rotate(6 221.63 29.58) skewX(38)"/><rect x="223.08" y="110.13" width="7.97" height="3.91" fill="#3E4D66" opacity="1" transform="rotate(6 223.08 110.13) skewX(38)"/><rect x="174.69" y="97.47" width="5.34" height="4.76" fill="#27354C" opacity="0.85" transform="rotate(6 174.69 97.47) skewX(38)"/><rect x="194.47" y="49.94" width="10.27" height="3.7" fill="#9A8A74" opacity="0.7" transform="rotate(6 194.47 49.94) skewX(38)"/><rect x="31.11" y="21.41" width="10.6" height="2.49" fill="#9A8A74" opacity="1" transform="rotate(6 31.11 21.41) skewX(38)"/><rect x="30.21" y="14.25" width="11.23" height="3.9" fill="#2E2F36" opacity="0.7" transform="rotate(6 30.21 14.25) skewX(38)"/><rect x="183.15" y="16.71" width="10.31" height="3.09" fill="#7A6C5B" opacity="1" transform="rotate(6 183.15 16.71) skewX(38)"/><rect x="216.52" y="16.73" width="12.81" height="4.74" fill="#4A433B" opacity="0.7" transform="rotate(6 216.52 16.73) skewX(38)"/><rect x="77.26" y="30.72" width="5.3" height="4.85" fill="#7A6C5B" opacity="1" transform="rotate(6 77.26 30.72) skewX(38)"/><rect x="42.89" y="86.65" width="6.61" height="3.65" fill="#5C6E88" opacity="0.7" transform="rotate(6 42.89 86.65) skewX(38)"/><rect x="195.06" y="75.92" width="4.41" height="3.01" fill="#8FA2BD" opacity="0.7" transform="rotate(6 195.06 75.92) skewX(38)"/><rect x="99.79" y="104.87" width="2.81" height="4.92" fill="#1F2C42" opacity="1" transform="rotate(6 99.79 104.87) skewX(38)"/><rect x="132.81" y="96.84" width="6.52" height="1.64" fill="#B9C8DC" opacity="0.7" transform="rotate(6 132.81 96.84) skewX(38)"/><rect x="118.27" y="88.85" width="4.75" height="4.67" fill="#74869F" opacity="1" transform="rotate(6 118.27 88.85) skewX(38)"/><rect x="70.78" y="97.95" width="3.09" height="5.19" fill="#5C6E88" opacity="0.85" transform="rotate(6 70.78 97.95) skewX(38)"/><rect x="24.28" y="30.61" width="10.1" height="3.45" fill="#17212E" opacity="0.85" transform="rotate(6 24.28 30.61) skewX(38)"/><rect x="130.02" y="60.13" width="10.37" height="1.62" fill="#1B4C9E" opacity="1" transform="rotate(6 130.02 60.13) skewX(38)"/><rect x="98.99" y="94.85" width="4.19" height="5.75" fill="#8FA2BD" opacity="0.7" transform="rotate(6 98.99 94.85) skewX(38)"/><rect x="226.67" y="33.62" width="6.49" height="4.82" fill="#7A6C5B" opacity="0.7" transform="rotate(6 226.67 33.62) skewX(38)"/><rect x="129.9" y="111.09" width="6.15" height="1.97" fill="#1F2C42" opacity="0.85" transform="rotate(6 129.9 111.09) skewX(38)"/><rect x="44.55" y="104.71" width="8.3" height="4.85" fill="#B9C8DC" opacity="1" transform="rotate(6 44.55 104.71) skewX(38)"/><rect x="29.44" y="31.02" width="6.11" height="3.27" fill="#3A4A60" opacity="0.7" transform="rotate(6 29.44 31.02) skewX(38)"/><rect x="105.93" y="100.17" width="4.02" height="3.57" fill="#74869F" opacity="1" transform="rotate(6 105.93 100.17) skewX(38)"/><rect x="186.97" y="86.8" width="6.7" height="3.07" fill="#1F2C42" opacity="1" transform="rotate(6 186.97 86.8) skewX(38)"/><rect x="57.55" y="96" width="6.8" height="4.84" fill="#5C6E88" opacity="0.85" transform="rotate(6 57.55 96) skewX(38)"/><rect x="118.78" y="88.89" width="6.26" height="2.07" fill="#3E4D66" opacity="1" transform="rotate(6 118.78 88.89) skewX(38)"/><rect x="215.19" y="34.27" width="6.72" height="2.9" fill="#2E2F36" opacity="1" transform="rotate(6 215.19 34.27) skewX(38)"/><rect x="57.39" y="25.91" width="7.23" height="2.98" fill="#A39480" opacity="0.85" transform="rotate(6 57.39 25.91) skewX(38)"/><rect x="58.76" y="43.46" width="5.51" height="3.44" fill="#101820" opacity="0.7" transform="rotate(6 58.76 43.46) skewX(38)"/><rect x="59.55" y="77.11" width="3.77" height="2.18" fill="#5C6E88" opacity="0.85" transform="rotate(6 59.55 77.11) skewX(38)"/><rect x="182.39" y="54.36" width="6.77" height="3.91" fill="#8C7D69" opacity="0.85" transform="rotate(6 182.39 54.36) skewX(38)"/><rect x="68.59" y="49.61" width="4.27" height="2.12" fill="#1B4C9E" opacity="1" transform="rotate(6 68.59 49.61) skewX(38)"/><rect x="72.05" y="110.05" width="4.43" height="1.6" fill="#8FA2BD" opacity="1" transform="rotate(6 72.05 110.05) skewX(38)"/><rect x="183.46" y="10.56" width="7.18" height="4.56" fill="#2E2F36" opacity="1" transform="rotate(6 183.46 10.56) skewX(38)"/><rect x="150.88" y="76.01" width="8" height="4.51" fill="#27354C" opacity="0.7" transform="rotate(6 150.88 76.01) skewX(38)"/><rect x="170.79" y="75.44" width="5.45" height="2.91" fill="#46566F" opacity="0.85" transform="rotate(6 170.79 75.44) skewX(38)"/><rect x="76.36" y="50.81" width="9.7" height="1.56" fill="#1B4C9E" opacity="0.85" transform="rotate(6 76.36 50.81) skewX(38)"/><rect x="122.32" y="73.4" width="5.16" height="4.54" fill="#5C6E88" opacity="1" transform="rotate(6 122.32 73.4) skewX(38)"/><rect x="94.86" y="11.08" width="12.49" height="4.72" fill="#8C7D69" opacity="0.7" transform="rotate(6 94.86 11.08) skewX(38)"/><rect x="78.26" y="32.22" width="11.45" height="4.85" fill="#9A8A74" opacity="1" transform="rotate(6 78.26 32.22) skewX(38)"/><rect x="99.21" y="96.41" width="5.47" height="2.42" fill="#3E4D66" opacity="1" transform="rotate(6 99.21 96.41) skewX(38)"/><rect x="27.48" y="90.84" width="4.9" height="3.04" fill="#3E4D66" opacity="0.7" transform="rotate(6 27.48 90.84) skewX(38)"/><rect x="237.9" y="28.75" width="9.62" height="4.8" fill="#2E2F36" opacity="1" transform="rotate(6 237.9 28.75) skewX(38)"/><rect x="100.78" y="15.78" width="7.47" height="3.2" fill="#8C7D69" opacity="0.7" transform="rotate(6 100.78 15.78) skewX(38)"/><rect x="114.41" y="52.9" width="9.59" height="2.01" fill="#2C3D58" opacity="0.7" transform="rotate(6 114.41 52.9) skewX(38)"/><rect x="72.48" y="85.63" width="8.61" height="3.87" fill="#2B3950" opacity="0.85" transform="rotate(6 72.48 85.63) skewX(38)"/><rect x="123.82" y="26.78" width="13.36" height="2.21" fill="#7A6C5B" opacity="1" transform="rotate(6 123.82 26.78) skewX(38)"/><rect x="65.73" y="75.5" width="7.18" height="5.17" fill="#5C6E88" opacity="0.85" transform="rotate(6 65.73 75.5) skewX(38)"/><rect x="167.86" y="94.73" width="7.67" height="3.36" fill="#8FA2BD" opacity="1" transform="rotate(6 167.86 94.73) skewX(38)"/><rect x="164.32" y="89.54" width="5.55" height="5.03" fill="#2B3950" opacity="0.85" transform="rotate(6 164.32 89.54) skewX(38)"/><rect x="176.11" y="80.12" width="8.89" height="4.55" fill="#3E4D66" opacity="0.7" transform="rotate(6 176.11 80.12) skewX(38)"/><rect x="197.97" y="91.49" width="4.83" height="4.44" fill="#1F2C42" opacity="0.85" transform="rotate(6 197.97 91.49) skewX(38)"/><rect x="128.74" y="73.58" width="3.06" height="5.54" fill="#5C6E88" opacity="0.85" transform="rotate(6 128.74 73.58) skewX(38)"/><rect x="208.56" y="15.82" width="12.45" height="4.72" fill="#7A6C5B" opacity="0.7" transform="rotate(6 208.56 15.82) skewX(38)"/><rect x="138.62" y="45.21" width="10.24" height="3.97" fill="#9A8A74" opacity="0.7" transform="rotate(6 138.62 45.21) skewX(38)"/><rect x="165.69" y="35.5" width="5.91" height="2.43" fill="#9A8A74" opacity="0.7" transform="rotate(6 165.69 35.5) skewX(38)"/><rect x="191.68" y="45.34" width="6.37" height="4.71" fill="#7A6C5B" opacity="1" transform="rotate(6 191.68 45.34) skewX(38)"/><rect x="60.27" y="100.9" width="6.45" height="5.02" fill="#74869F" opacity="1" transform="rotate(6 60.27 100.9) skewX(38)"/><rect x="205.18" y="30.13" width="11.24" height="3.59" fill="#2E2F36" opacity="0.85" transform="rotate(6 205.18 30.13) skewX(38)"/><rect x="168.99" y="21.93" width="6.07" height="3.26" fill="#7A6C5B" opacity="0.7" transform="rotate(6 168.99 21.93) skewX(38)"/><rect x="126.22" y="66.83" width="5.65" height="5.57" fill="#3E4D66" opacity="0.7" transform="rotate(6 126.22 66.83) skewX(38)"/><rect x="131.61" y="65.03" width="8.11" height="1.53" fill="#1F2C42" opacity="0.85" transform="rotate(6 131.61 65.03) skewX(38)"/><rect x="174.31" y="60.76" width="6.37" height="2.27" fill="#1B4C9E" opacity="0.85" transform="rotate(6 174.31 60.76) skewX(38)"/><rect x="239.99" y="78.95" width="3.67" height="3.12" fill="#34445E" opacity="0.7" transform="rotate(6 239.99 78.95) skewX(38)"/><rect x="155.69" y="79.62" width="8.55" height="2.99" fill="#46566F" opacity="1" transform="rotate(6 155.69 79.62) skewX(38)"/><rect x="128.58" y="87.23" width="3.44" height="2.46" fill="#B9C8DC" opacity="1" transform="rotate(6 128.58 87.23) skewX(38)"/><rect x="51.41" y="19.64" width="10.93" height="3.02" fill="#7A6C5B" opacity="1" transform="rotate(6 51.41 19.64) skewX(38)"/><rect x="143.69" y="103.06" width="4.35" height="3.04" fill="#8FA2BD" opacity="1" transform="rotate(6 143.69 103.06) skewX(38)"/><rect x="35.39" y="39.49" width="6.84" height="2.34" fill="#2C3D58" opacity="1" transform="rotate(6 35.39 39.49) skewX(38)"/><rect x="236.61" y="99.04" width="4.74" height="2.42" fill="#3E4D66" opacity="0.7" transform="rotate(6 236.61 99.04) skewX(38)"/><rect x="95.47" y="42.34" width="6.39" height="2.55" fill="#101820" opacity="0.7" transform="rotate(6 95.47 42.34) skewX(38)"/><rect x="193.39" y="14.09" width="11.5" height="4.66" fill="#A39480" opacity="1" transform="rotate(6 193.39 14.09) skewX(38)"/><rect x="34.74" y="40.64" width="4.05" height="1.64" fill="#1B4C9E" opacity="1" transform="rotate(6 34.74 40.64) skewX(38)"/><rect x="189.45" y="16.14" width="9.51" height="3.63" fill="#4A433B" opacity="1" transform="rotate(6 189.45 16.14) skewX(38)"/><rect x="55.76" y="78.72" width="6.98" height="5.44" fill="#46566F" opacity="0.7" transform="rotate(6 55.76 78.72) skewX(38)"/><rect x="32.53" y="74.63" width="6.56" height="2.28" fill="#5C6E88" opacity="0.7" transform="rotate(6 32.53 74.63) skewX(38)"/><rect x="115.06" y="20.26" width="13.37" height="2.04" fill="#7A6C5B" opacity="0.7" transform="rotate(6 115.06 20.26) skewX(38)"/><rect x="193.89" y="67.33" width="6.06" height="1.89" fill="#1B4C9E" opacity="0.7" transform="rotate(6 193.89 67.33) skewX(38)"/><rect x="92.79" y="53.93" width="9.13" height="3.35" fill="#17212E" opacity="0.85" transform="rotate(6 92.79 53.93) skewX(38)"/><rect x="146.58" y="14.02" width="6.07" height="4.43" fill="#A39480" opacity="1" transform="rotate(6 146.58 14.02) skewX(38)"/><rect x="222.42" y="55.54" width="5.13" height="3.16" fill="#A39480" opacity="1" transform="rotate(6 222.42 55.54) skewX(38)"/>
<path d="M28,18 L150,33 M40,12 L60,38 M70,16 L100,40 M110,20 L150,46 M145,24 L185,48 M30,24 L160,40 M60,30 L175,50" stroke="#1D4FA8" stroke-width="1.2" fill="none" opacity="0.9"/>
<path d="M75,15.5 L88,17 L88,45 L78,43 Z" fill="#F3F8FF"/>
<path d="M84,58 Q98,50 112,56 L131,76 L134,100 L100,104 L92,84 Z" fill="#F1F1F1"/>
<path d="M92,58 L108,92 L104,100 L128,100 L132,84 L118,62 L122,82 L112,86 L96,56 Z" fill="#4A4A54"/>
<path d="M86,76 L96,74 L120,84 L118,92 L92,86 Z" fill="#BC8564"/>
<path d="M92,38 L108.6,42.4 L112,54 L101,56 L94,46 Z" fill="#C99A7A"/>
<path d="M98.6,44.4 Q105,47 111,43.4 L115.4,53.6 Q110.6,58 104.4,56 Z" fill="#4C9FDB"/>
<path d="M81.4,34 Q81.6,26 90,26.2 Q101.5,27 108,40.2 L109.4,42.6 L96,39.6 Q88,36.8 81.4,34 Z" fill="#F5C518"/><path d="M84,33 Q86,28 91,28 Q94,28.4 96,30 Q90,29.6 86.4,34 Z" fill="#FBE27A"/>
<path d="M120,82 L149,87 L150,92 L124,94 Z" fill="#3D4450"/>
<path d="M150,72 Q160,66 172,72 L188,100 L150,102 Z" fill="#C9CBD3"/>
<path d="M141,54 L152,54 L156,70 L146,70 Z" fill="#D0A080"/>
<path d="M142.8,60 Q148.6,62.6 154.4,59.2 L157.6,66.6 Q152.6,69.6 146.6,68 Z" fill="#4C9FDB"/>
<path d="M133.4,57 Q133,49.5 141,48.8 Q150,49 155.6,60 L152,59.6 Q148,54 142,54.4 Q138,55 137.6,60.4 Z" fill="#F5C518"/>
<path d="M169.4,51 Q173,48.6 176,53 L181.8,63 L184.4,74 L180,79 L166,81 L164,75 L175,71 L172,62 Z" fill="#D2A383"/>
<path d="M159,81 L178,84 L192,102 L166,103 Z" fill="#E9ECF2"/>
<path d="M122,99 L184,97 L186,102 L124,105 Z" fill="#AEB9CC"/>
<rect x="161" y="97.5" width="23" height="4" fill="#1B2A5C" transform="rotate(-2 172 99)"/>
</g>
<path d="M538,94 V108" fill="none" stroke="#8D95A1" stroke-width="2.4" stroke-dasharray="5.5 4" stroke-dashoffset="0" stroke-linejoin="round"/>
<polygon points="538,115 534,109 542,109" fill="#8D95A1"/>
<path d="M409.5,209.5 V224" fill="none" stroke="#8D95A1" stroke-width="2.4" stroke-dasharray="5.5 4" stroke-dashoffset="0" stroke-linejoin="round"/>
<polygon points="409.5,231 405.5,225 413.5,225" fill="#8D95A1"/>
<path d="M538,209.5 V224" fill="none" stroke="#8D95A1" stroke-width="2.4" stroke-dasharray="5.5 4" stroke-dashoffset="0" stroke-linejoin="round"/>
<polygon points="538,231 534,225 542,225" fill="#8D95A1"/>
<path d="M409,333.6 V360 L748,355.6 V296" fill="none" stroke="#8D95A1" stroke-width="3.6" stroke-dasharray="6 6.4" stroke-dashoffset="0" stroke-linejoin="round"/>
<polygon points="747.7,282.4 739.4,296 756,296" fill="#8D95A1"/>
<path d="M671,228 V154.4 H758 V166" fill="none" stroke="#8D95A1" stroke-width="3.6" stroke-dasharray="6 6.4" stroke-dashoffset="0" stroke-linejoin="round"/>
<rect x="755.8" y="169.6" width="3.6" height="5" fill="#8D95A1"/><polygon points="757.6,183.6 751.6,173.6 763.6,173.6" fill="#8D95A1"/>
<path d="M849,228 V154.4 H935.6 V166" fill="none" stroke="#8D95A1" stroke-width="3.6" stroke-dasharray="6 6.4" stroke-dashoffset="0" stroke-linejoin="round"/>
<rect x="933.8" y="169.6" width="3.6" height="5" fill="#8D95A1"/><polygon points="935.6,183.6 929.6,173.6 941.6,173.6" fill="#8D95A1"/>
<path d="M1023,228 V154.4 H1109.4 V166" fill="none" stroke="#8D95A1" stroke-width="3.6" stroke-dasharray="6 6.4" stroke-dashoffset="0" stroke-linejoin="round"/>
<rect x="1107.6" y="169.6" width="3.6" height="5" fill="#8D95A1"/><polygon points="1109.4,183.6 1103.4,173.6 1115.4,173.6" fill="#8D95A1"/>
<path d="M762.4,283.6 V307 H797" fill="none" stroke="#8D95A1" stroke-width="3.6" stroke-dasharray="6 6.4" stroke-dashoffset="0" stroke-linejoin="round"/>
<polygon points="807.6,307 797.2,301 797.2,313" fill="#8D95A1"/>
<path d="M935.4,282.4 V306 H970" fill="none" stroke="#8D95A1" stroke-width="3.6" stroke-dasharray="6 6.4" stroke-dashoffset="0" stroke-linejoin="round"/>
<polygon points="981,306 970.4,300 970.4,312" fill="#8D95A1"/>
<path d="M1109.4,282.4 V344" fill="none" stroke="#8D95A1" stroke-width="3.6" stroke-dasharray="6 6.4" stroke-dashoffset="0" stroke-linejoin="round"/>
<polygon points="1109.4,353 1103.1,343.5 1115.7,343.5" fill="#8D95A1"/>
<path d="M1018.4,359 V337" fill="none" stroke="#8D95A1" stroke-width="3.6" stroke-dasharray="6 6.4" stroke-dashoffset="0" stroke-linejoin="round"/>
<polygon points="1018.4,328 1012.4,338 1024.4,338" fill="#8D95A1"/>
<path d="M1073.6,437 H1020" fill="none" stroke="#8D95A1" stroke-width="3.6" stroke-dasharray="6 6.4" stroke-dashoffset="0" stroke-linejoin="round"/>
<polygon points="1017,426 1011,436 1023,436" fill="#8D95A1"/>
<rect x="1015.2" y="435" width="3.6" height="3.8" fill="#8D95A1"/>
<path d="M1110.2,456 V516.8" fill="none" stroke="#8D95A1" stroke-width="4" stroke-dasharray="9 8" stroke-dashoffset="0" stroke-linejoin="round"/>
<rect x="1095" y="514" width="10" height="4" fill="#8D95A1"/>
<rect x="1079" y="514" width="8" height="4" fill="#8D95A1"/>
<polygon points="1069.6,516 1080,510 1080,522" fill="#8D95A1"/>
<rect x="954" y="515.6" width="7.6" height="3.6" fill="#8D95A1"/>
<polygon points="944,517.4 955,511.9 955,522.9" fill="#8D95A1"/>
<rect x="829" y="515.6" width="7.6" height="3.6" fill="#8D95A1"/>
<polygon points="819.4,517.4 830,511.9 830,522.9" fill="#8D95A1"/>
<rect x="844" y="515.6" width="2.4" height="3.6" fill="#8D95A1"/>
<path d="M773,536 V545.6 M773,556 V565.4" stroke="#5B2D91" stroke-width="6.2" fill="none"/>
<path d="M773,576 V584.6 H782" stroke="#5B2D91" stroke-width="6" fill="none" stroke-linejoin="round"/>
<path d="M802.4,584.6 H1121" stroke="#5B2D91" stroke-width="5.8" fill="none" stroke-dasharray="19.3 20"/>
<polygon points="1163,584.6 1110,555.6 1121,584.6 1110,614.4" fill="#5B2D91"/>
<clipPath id="tp292"><polygon points="324.88,13.72 357.19,46.6 324.88,79.48 292,46.6"/></clipPath><polygon points="324.88,13.72 357.19,46.6 324.88,79.48 292,46.6" fill="#D9445C"/><circle cx="292" cy="46.6" r="48.7" fill="#CE3B56" clip-path="url(#tp292)"/><circle cx="292" cy="46.6" r="43.2" fill="#fefefd" stroke="#F17574" stroke-width="6.6"/>
<text x="292" y="76.8" font-size="9.5" font-weight="bold" fill="#111" stroke="#111" stroke-width="0.28" text-anchor="middle" textLength="30" lengthAdjust="spacingAndGlyphs">START</text>
<clipPath id="tp410"><polygon points="443.08,13.72 475.39,46.6 443.08,79.48 410.2,46.6"/></clipPath><polygon points="443.08,13.72 475.39,46.6 443.08,79.48 410.2,46.6" fill="#3F449C"/><circle cx="410.2" cy="46.6" r="48.7" fill="#363A8E" clip-path="url(#tp410)"/><circle cx="410.2" cy="46.6" r="43.2" fill="#fefefd" stroke="#5460AE" stroke-width="6.6"/>
<text x="411.5" y="66" font-size="9.5" font-weight="bold" fill="#111" stroke="#111" stroke-width="0.28" text-anchor="middle" textLength="43" lengthAdjust="spacingAndGlyphs">CHOOSE</text>
<text x="411.5" y="76.8" font-size="9.5" font-weight="bold" fill="#111" stroke="#111" stroke-width="0.28" text-anchor="middle" textLength="55" lengthAdjust="spacingAndGlyphs">CATEGORY</text>
<circle cx="538.2" cy="46.8" r="45.9" fill="none" stroke="#12B36A" stroke-width="1.4" stroke-dasharray="0.01 2.62" stroke-linecap="round"/>
<circle cx="538.2" cy="46.8" r="43.3" fill="#688052"/>
<circle cx="538.2" cy="46.8" r="39.8" fill="none" stroke="#fff" stroke-width="1.05" stroke-dasharray="2.4 1.77"/>
<text x="538.2" y="63.8" font-size="9.5" font-weight="bold" fill="#fff" stroke="#fff" stroke-width="0.28" text-anchor="middle" textLength="43" lengthAdjust="spacingAndGlyphs">CHOOSE</text>
<text x="538.2" y="76.4" font-size="9.5" font-weight="bold" fill="#fff" stroke="#fff" stroke-width="0.28" text-anchor="middle" textLength="33.5" lengthAdjust="spacingAndGlyphs">USERS</text>
<circle cx="410" cy="162.8" r="43.15" fill="#fefefd" stroke="#825AA0" stroke-width="6.7"/>
<text x="410" y="187.4" font-size="9.5" font-weight="bold" fill="#111" stroke="#111" stroke-width="0.28" text-anchor="middle" textLength="15" lengthAdjust="spacingAndGlyphs">NO</text>
<circle cx="538.2" cy="162.8" r="43.15" fill="#fefefd" stroke="#EE2C58" stroke-width="6.7"/>
<text x="538.2" y="182" font-size="9.5" font-weight="bold" fill="#111" stroke="#111" stroke-width="0.28" text-anchor="middle" textLength="45.6" lengthAdjust="spacingAndGlyphs">EXISTING</text>
<text x="538.2" y="192.5" font-size="9.5" font-weight="bold" fill="#111" stroke="#111" stroke-width="0.28" text-anchor="middle" textLength="27" lengthAdjust="spacingAndGlyphs">USER</text>
<circle cx="410" cy="278.2" r="43.15" fill="#fefefd" stroke="#825AA0" stroke-width="6.7"/>
<text x="410" y="290.8" font-size="9.5" font-weight="bold" fill="#111" stroke="#111" stroke-width="0.28" text-anchor="middle" textLength="27" lengthAdjust="spacingAndGlyphs">USER</text>
<text x="410" y="301.4" font-size="9.5" font-weight="bold" fill="#111" stroke="#111" stroke-width="0.28" text-anchor="middle" textLength="41.4" lengthAdjust="spacingAndGlyphs">DETAILS</text>
<text x="410" y="312" font-size="9.5" font-weight="bold" fill="#111" stroke="#111" stroke-width="0.28" text-anchor="middle" textLength="33" lengthAdjust="spacingAndGlyphs">ENTRY</text>
<circle cx="538.2" cy="278.2" r="43.15" fill="#fefefd" stroke="#688052" stroke-width="6.7"/>
<text x="538.2" y="307.8" font-size="9.5" font-weight="bold" fill="#111" stroke="#111" stroke-width="0.28" text-anchor="middle" textLength="19" lengthAdjust="spacingAndGlyphs">YES</text>
<polygon points="728.5,279 701.75,325.33 648.25,325.33 621.5,279 648.25,232.67 701.75,232.67" fill="#1F3C74"/><polygon points="719.49,279 697.25,317.53 652.75,317.53 630.51,279 652.75,240.47 697.25,240.47" fill="#fefefe"/>
<text x="675" y="301.97" font-size="8.3" font-weight="bold" fill="#111" stroke="#111" stroke-width="0.28" text-anchor="middle" textLength="52.4" lengthAdjust="spacingAndGlyphs">ENTER USER</text>
<text x="675" y="312.57" font-size="8.3" font-weight="bold" fill="#111" stroke="#111" stroke-width="0.28" text-anchor="middle" textLength="35" lengthAdjust="spacingAndGlyphs">DETAILS</text>
<polygon points="815.9,232.5 789.15,278.83 735.65,278.83 708.9,232.5 735.65,186.17 789.15,186.17" fill="#1F3C74"/><polygon points="806.89,232.5 784.65,271.03 740.15,271.03 717.91,232.5 740.15,193.97 784.65,193.97" fill="#fefefe"/>
<text x="762.4" y="253.97" font-size="8.3" font-weight="bold" fill="#111" stroke="#111" stroke-width="0.28" text-anchor="middle" textLength="22" lengthAdjust="spacingAndGlyphs">TAKE</text>
<text x="762.4" y="264.97" font-size="8.3" font-weight="bold" fill="#111" stroke="#111" stroke-width="0.28" text-anchor="middle" textLength="29.4" lengthAdjust="spacingAndGlyphs">PHOTO</text>
<polygon points="902.7,279 875.95,325.33 822.45,325.33 795.7,279 822.45,232.67 875.95,232.67" fill="#1F3C74"/><polygon points="893.69,279 871.45,317.53 826.95,317.53 804.71,279 826.95,240.47 871.45,240.47" fill="#fefefe"/>
<text x="849.2" y="301.97" font-size="8.3" font-weight="bold" fill="#111" stroke="#111" stroke-width="0.28" text-anchor="middle" textLength="36" lengthAdjust="spacingAndGlyphs">CHOOSE</text>
<text x="849.2" y="312.57" font-size="8.3" font-weight="bold" fill="#111" stroke="#111" stroke-width="0.28" text-anchor="middle" textLength="46.5" lengthAdjust="spacingAndGlyphs">LANGUAGE</text>
<polygon points="989.8,232.5 963.05,278.83 909.55,278.83 882.8,232.5 909.55,186.17 963.05,186.17" fill="#1F3C74"/><polygon points="980.79,232.5 958.55,271.03 914.05,271.03 891.81,232.5 914.05,193.97 958.55,193.97" fill="#fefefe"/>
<text x="935.5" y="244.47" font-size="8.3" font-weight="bold" fill="#111" stroke="#111" stroke-width="0.28" text-anchor="middle" textLength="36" lengthAdjust="spacingAndGlyphs">CHOOSE</text>
<text x="935.5" y="255.37" font-size="8.3" font-weight="bold" fill="#111" stroke="#111" stroke-width="0.28" text-anchor="middle" textLength="40.5" lengthAdjust="spacingAndGlyphs">TRAINING</text>
<text x="935.5" y="265.97" font-size="8.3" font-weight="bold" fill="#111" stroke="#111" stroke-width="0.28" text-anchor="middle" textLength="37" lengthAdjust="spacingAndGlyphs">MODULE</text>
<polygon points="1076.3,279 1049.55,325.33 996.05,325.33 969.3,279 996.05,232.67 1049.55,232.67" fill="#1F3C74"/><polygon points="1067.29,279 1045.05,317.53 1000.55,317.53 978.31,279 1000.55,240.47 1045.05,240.47" fill="#fefefe"/>
<text x="1023" y="290.97" font-size="8.3" font-weight="bold" fill="#111" stroke="#111" stroke-width="0.28" text-anchor="middle" textLength="65" lengthAdjust="spacingAndGlyphs">WATCH SAFETY</text>
<text x="1023" y="301.97" font-size="8.3" font-weight="bold" fill="#111" stroke="#111" stroke-width="0.28" text-anchor="middle" textLength="59" lengthAdjust="spacingAndGlyphs">VIDEO / DOC /</text>
<text x="1023" y="312.97" font-size="8.3" font-weight="bold" fill="#111" stroke="#111" stroke-width="0.28" text-anchor="middle" textLength="42" lengthAdjust="spacingAndGlyphs">PDF / PPT</text>
<polygon points="1163.5,232.5 1136.75,278.83 1083.25,278.83 1056.5,232.5 1083.25,186.17 1136.75,186.17" fill="#1F3C74"/><polygon points="1154.49,232.5 1132.25,271.03 1087.75,271.03 1065.51,232.5 1087.75,193.97 1132.25,193.97" fill="#fefefe"/>
<text x="1110" y="263.97" font-size="8.3" font-weight="bold" fill="#111" stroke="#111" stroke-width="0.28" text-anchor="middle" textLength="43.6" lengthAdjust="spacingAndGlyphs">TAKE TEST</text>
<path d="M1018.4,366.11 L1045.26,418.8 L991.54,418.8 Z" fill="#3B3A9E" stroke="#3B3A9E" stroke-width="9" stroke-linejoin="round"/>
<path d="M1018.4,367.65 L1043.09,416.1 L993.71,416.1 Z" fill="#F7F7FB" stroke="#F7F7FB" stroke-width="4" stroke-linejoin="round"/>
<text x="1018.6" y="415" font-size="9.5" font-weight="bold" fill="#111" stroke="#111" stroke-width="0.28" text-anchor="middle" textLength="21.4" lengthAdjust="spacingAndGlyphs">FAIL</text>
<circle cx="1109.3" cy="404.2" r="43.05" fill="#fefefd" stroke="#EE2C58" stroke-width="6.9"/>
<text x="1109.3" y="435" font-size="9.5" font-weight="bold" fill="#111" stroke="#111" stroke-width="0.28" text-anchor="middle" textLength="37" lengthAdjust="spacingAndGlyphs">RESULT</text>
<circle cx="1019" cy="514" r="43.2" fill="#fefefd" stroke="#00A550" stroke-width="6.8"/>
<text x="1019" y="537.8" font-size="9.5" font-weight="bold" fill="#111" stroke="#111" stroke-width="0.28" text-anchor="middle" textLength="25.4" lengthAdjust="spacingAndGlyphs">PASS</text>
<circle cx="894.3" cy="513.5" r="43.1" fill="#fefefd" stroke="#EE6437" stroke-width="6.8"/>
<text x="894.3" y="525.4" font-size="9.5" font-weight="bold" fill="#111" stroke="#111" stroke-width="0.28" text-anchor="middle" textLength="53.4" lengthAdjust="spacingAndGlyphs">GENERATE</text>
<text x="894.3" y="536" font-size="9.5" font-weight="bold" fill="#111" stroke="#111" stroke-width="0.28" text-anchor="middle" textLength="37.5" lengthAdjust="spacingAndGlyphs">SAFETY</text>
<text x="894.3" y="546.8" font-size="9.5" font-weight="bold" fill="#111" stroke="#111" stroke-width="0.28" text-anchor="middle" textLength="37.5" lengthAdjust="spacingAndGlyphs">PERMIT</text>
<defs><linearGradient id="pill" x1="0" y1="0" x2="0" y2="1"><stop offset="0" stop-color="#4A2974"/><stop offset="1" stop-color="#80599F"/></linearGradient><linearGradient id="pillc" x1="0" y1="0" x2="1" y2="1"><stop offset="0" stop-color="#7B4FA6"/><stop offset="1" stop-color="#4B2877"/></linearGradient></defs>
<path d="M745,503 H802 A14.5,14.5 0 0 1 802,532 H745 Z" fill="url(#pill)"/>
<circle cx="738.5" cy="517.5" r="19.6" fill="#fff"/>
<circle cx="738.5" cy="517.5" r="17.5" fill="url(#pillc)"/>
<text x="782.6" y="521.4" font-size="9.5" font-weight="bold" fill="#fff" stroke="#fff" stroke-width="0.28" text-anchor="middle" textLength="21.4" lengthAdjust="spacingAndGlyphs">END</text>
<path d="M491.5,162.6 H450" fill="none" stroke="#8D95A1" stroke-width="2.4" stroke-dasharray="5.5 4" stroke-dashoffset="0" stroke-linejoin="round"/>
<polygon points="443.6,162.6 449.6,158.6 449.6,166.6" fill="#8D95A1"/>
<g transform="translate(291.8,31.9) scale(1)"><g fill="none" stroke="#141414" stroke-width="1.6" stroke-linecap="round"><path d="M-12.1,7 A14,14 0 0 1 -12.9,-5.5"/><path d="M-11.3,-8.3 A14,14 0 0 1 -5,-13.1"/><path d="M-1.5,-13.9 A14,14 0 0 1 11,-8.6"/><path d="M12.6,-6 A14,14 0 0 1 12.9,5.5"/><path d="M-6.6,7 A9.6,9.6 0 0 1 -9.5,-1.5"/><path d="M-8.8,-3.9 A9.6,9.6 0 0 1 -1,-9.55"/><path d="M1.8,-9.4 A9.6,9.6 0 0 1 8.6,-4.3"/><path d="M9.4,-1.8 A9.6,9.6 0 0 1 7.6,5.9"/></g><circle r="5.9" fill="#F6D313" stroke="#141414" stroke-width="1.5"/><path d="M-2.4,16 V0.6 a2.4,2.4 0 0 1 4.8,0 V12.2 q1.6,-1.6 3.2,0 v0.8 q1.6,-1.5 3.2,0 v0.9 q1.9,-1.3 3.5,0.4 V22 q0,3 -1.8,5.3 H0.2 L-6.6,16.8 q-1.6,-3 0.8,-3.9 q1.2,-0.3 2,1 z" fill="#F2BB9A" stroke="#141414" stroke-width="1.5" stroke-linejoin="round"/><path d="M5.6,12.6 v3 M8.8,13.6 v2.6" stroke="#141414" stroke-width="1.1" fill="none"/></g>
<circle cx="399.4" cy="26" r="2.4" fill="#F9D04B"/><rect x="405" y="23.8" width="21.4" height="4.4" rx="0.8" fill="#F9D04B"/><circle cx="399.4" cy="34.2" r="2.4" fill="#3DB890"/><rect x="405" y="32.0" width="21.4" height="4.4" rx="0.8" fill="#3DB890"/><circle cx="399.4" cy="42.3" r="2.4" fill="#E9523F"/><rect x="405" y="40.099999999999994" width="21.4" height="4.4" rx="0.8" fill="#E9523F"/><circle cx="399.4" cy="50.4" r="2.4" fill="#1E98E0"/><rect x="405" y="48.199999999999996" width="21.4" height="4.4" rx="0.8" fill="#1E98E0"/>
<g fill="none" stroke="#F1F4EC" stroke-width="0.85"><circle cx="527.6" cy="31.65" r="4.3"/><circle cx="527.6" cy="31.65" r="3.1999999999999997" stroke-width="0.5"/><circle cx="538" cy="30" r="4.7"/><circle cx="538" cy="30" r="3.6" stroke-width="0.5"/><circle cx="548.4" cy="31.65" r="4.3"/><circle cx="548.4" cy="31.65" r="3.1999999999999997" stroke-width="0.5"/><path d="M527.7,36 v1.6 M548.3,36 v1.6"/><circle cx="527.8" cy="39.9" r="2.2"/><circle cx="538" cy="39.1" r="3.0"/><circle cx="548.3" cy="39.9" r="2.2"/><path d="M524,49.9 v-3.4 q0,-3 3.8,-3 q3.9,0 3.9,3 v3.4 z M526,49.9 v-3 M529.6,49.9 v-3"/><path d="M544.5,49.9 v-3.4 q0,-3 3.8,-3 q3.9,0 3.9,3 v3.4 z M546.5,49.9 v-3 M550.1,49.9 v-3"/><path d="M533.2,51.5 v-4.6 q0,-4 4.8,-4 q4.9,0 4.9,4 v4.6 z M535.6,51.5 v-4 M540.4,51.5 v-4" stroke-width="1"/></g><g font-size="5.4" font-weight="bold" fill="#F1F4EC" text-anchor="middle"><text x="527.6" y="33.6">B</text><text x="538" y="32">A</text><text x="548.4" y="33.6">C</text></g>
<path d="M393.5,138.5 L424.5,168.5 M424.5,138.5 L393.5,168.5" stroke="#E7E7EA" stroke-width="4" fill="none"/><path d="M389.5,150 l7,7 m0,-7 l-7,7 M421,150 l7,7 m0,-7 l-7,7" stroke="#E2E2E6" stroke-width="0.8" fill="none"/><path d="M399,170 L400,156 Q401,150.5 406,150 L413.5,150 Q419,150.5 420,156 L420.5,170 Z" fill="#F7C927"/><rect x="399.5" y="170" width="18.3" height="5.8" fill="#2C323D"/><rect x="407.3" y="145" width="4" height="6" fill="#7A4330"/><ellipse cx="409.3" cy="143" rx="3.4" ry="4" fill="#8D4F35"/><path d="M405.8,142 Q405,137 409,136.3 Q410,135.3 412,136 Q414.5,137 413.6,140.5 Q411.5,139 409,140 Q407,140.5 405.8,142 Z" fill="#1D222C"/><path d="M397.5,163 L414.5,147" stroke="#8D4F35" stroke-width="4.6" stroke-linecap="round" fill="none"/><path d="M421.5,163 L403.5,147" stroke="#8D4F35" stroke-width="4.6" stroke-linecap="round" fill="none"/><path d="M397.5,163 L403,158.5 M421.5,163 L416,158.5" stroke="#7A4330" stroke-width="4.8" stroke-linecap="round" fill="none"/><path d="M394,169 q1,3 3.5,5.5 M395,173 l-1.5,-0.5 M423,172 q-1,2 -3,3.5 M423.5,170.5 l-2,1.5" stroke="#2C323D" stroke-width="0.8" fill="none"/>
<circle cx="525.4" cy="131.8" r="3.1" fill="#fff" stroke="#ECECEF" stroke-width="0.5"/><path d="M523.9,131.9 l1,1.1 l2,-2.4" stroke="#5A9E3A" stroke-width="0.9" fill="none"/><path d="M530.5,147.5 L523,145 L531.5,136" stroke="#F7C4A5" stroke-width="2.6" stroke-linecap="round" stroke-linejoin="round" fill="none"/><path d="M526,144 L530.5,147.8 L530,152 L526.5,148 Z" fill="#DCE9F2"/><path d="M542.5,156.5 L545,158 L552.2,150" stroke="#F7C4A5" stroke-width="2.4" stroke-linecap="round" stroke-linejoin="round" fill="none"/><path d="M540.5,146.8 L544,150.5 L543.4,156 L540.5,154 Z" fill="#DCE9F2"/><rect x="534" y="142" width="3.4" height="5" fill="#F1B592"/><ellipse cx="535.8" cy="140.4" rx="3" ry="4.2" fill="#F7C4A5"/><path d="M531.6,137.8 Q531.8,133.2 535.8,133.2 Q539.6,133.4 539.6,137 L540.3,137.8 Z" fill="#F05A45"/><rect x="532" y="138" width="1.6" height="3" rx="0.7" fill="#2A2F3A"/><path d="M529.3,146.5 L533.5,146 L535.6,150 L537.8,146 L541.8,146.5 L542.2,165 L529,165 Z" fill="#EE5A45"/><path d="M533.5,146 L535.6,150 L537.8,146 Z" fill="#E8EEF4"/><rect x="529" y="161.6" width="13.2" height="1.9" fill="#F9B4A6"/><path d="M535.6,150 V165" stroke="#D94A38" stroke-width="0.5"/><rect x="529.2" y="166.3" width="12.6" height="6" fill="#1E2430"/>
<g transform="translate(395.1,248.3) scale(1)"><rect width="24" height="31.7" fill="#F2F3F8"/><circle cx="11.7" cy="8.3" r="5.9" fill="#FBFBFD" stroke="#D9DAE2" stroke-width="0.5"/><circle cx="11.7" cy="6.9" r="1.4" fill="#D6D8E0"/><path d="M9.2,11.2 q0,-2.6 2.5,-2.6 q2.5,0 2.5,2.6 z" fill="#D6D8E0"/><rect x="2" y="16.4" width="20" height="3" rx="0.6" fill="#fff" stroke="#D3D5DE" stroke-width="0.4"/><rect x="2" y="20.8" width="20" height="3.1" rx="0.6" fill="#fff" stroke="#D3D5DE" stroke-width="0.4"/><rect x="3.2" y="17.5" width="3" height="0.8" fill="#9A9DAA"/><rect x="3.2" y="21.9" width="5.5" height="0.8" fill="#9A9DAA"/><rect x="2" y="25.6" width="19.8" height="3.5" fill="#0F1B47"/><rect x="9" y="27" width="6" height="0.7" fill="#8C93B8"/><path d="M-3,10.7 h2 M27,9.7 h6" stroke="#E9EAEE" stroke-width="0.5"/></g>
<g transform="translate(538.05,270.8) scale(1)"><circle r="19.8" fill="#688052"/><circle r="17.8" fill="none" stroke="#fff" stroke-width="1.1"/><path d="M-10,-0.5 L-7.1,-2.2 Q-3.5,0 -0.8,2.9 Q6,-6 14.3,-12.4 L15.9,-11.7 Q7,-2 0.7,10.2 Q-4,4 -10,-0.5 Z" fill="#688052" stroke="#fff" stroke-width="1.25" stroke-linejoin="round"/></g>
<g transform="translate(657.4,250) scale(1.27)"><rect width="24" height="31.7" fill="#F2F3F8"/><circle cx="11.7" cy="8.3" r="5.9" fill="#FBFBFD" stroke="#D9DAE2" stroke-width="0.5"/><circle cx="11.7" cy="6.9" r="1.4" fill="#D6D8E0"/><path d="M9.2,11.2 q0,-2.6 2.5,-2.6 q2.5,0 2.5,2.6 z" fill="#D6D8E0"/><rect x="2" y="16.4" width="20" height="3" rx="0.6" fill="#fff" stroke="#D3D5DE" stroke-width="0.4"/><rect x="2" y="20.8" width="20" height="3.1" rx="0.6" fill="#fff" stroke="#D3D5DE" stroke-width="0.4"/><rect x="3.2" y="17.5" width="3" height="0.8" fill="#9A9DAA"/><rect x="3.2" y="21.9" width="5.5" height="0.8" fill="#9A9DAA"/><rect x="2" y="25.6" width="19.8" height="3.5" fill="#0F1B47"/><rect x="9" y="27" width="6" height="0.7" fill="#8C93B8"/><path d="M-3,10.7 h2 M27,9.7 h6" stroke="#E9EAEE" stroke-width="0.5"/></g>
<clipPath id="avc"><circle cx="762.5" cy="220.6" r="19.5"/></clipPath><circle cx="762.5" cy="220.6" r="19.5" fill="#DFE1E5"/><g clip-path="url(#avc)"><ellipse cx="762.4" cy="240.8" rx="15.6" ry="13.6" fill="#4D5257"/><path d="M758.6,224 h7.6 v4 l-3.8,3 l-3.8,-3 z" fill="#F3F4F7"/><path d="M761.6,230.5 L762.4,229.8 L763.2,230.5 L763,241 L761.8,241 Z" fill="#6A6F75"/></g><ellipse cx="762.4" cy="217.9" rx="5.9" ry="8.4" fill="#F3F4F7"/><path d="M755.7,216.4 Q754.8,209.6 758.2,209.4 Q762.4,208.2 766.8,209.4 Q770.2,209.8 769.2,216.4 L768.2,219 Q768.4,213.4 766.6,212.9 Q762.4,211.6 758.4,212.9 Q756.6,213.4 756.7,219 Z" fill="#474C52"/><path d="M756.6,219.6 Q757.6,226 762.4,226.6 Q767.2,226 768.2,219.6 Q766.8,222 764.8,222 L760,222 Q758,222 756.6,219.6 Z" fill="#474C52"/><path d="M760.8,222.6 h3.2 v0.9 h-3.2 z" fill="#F3F4F7"/><path d="M759.2,215.4 l2.4,2.2 m0,-2.2 l-2.4,2.2 M763.2,215.4 l2.4,2.2 m0,-2.2 l-2.4,2.2" stroke="#E3E5EA" stroke-width="0.5"/>
<defs><linearGradient id="lg1" x1="0" y1="0" x2="1" y2="0"><stop offset="0" stop-color="#9A86CF"/><stop offset="1" stop-color="#6E63B5"/></linearGradient></defs><ellipse cx="847" cy="272.4" rx="12.6" ry="18.1" fill="#6F66B8"/><ellipse cx="838.6" cy="272.4" rx="12.6" ry="18.1" fill="url(#lg1)" stroke="#F0709A" stroke-width="0.6"/><ellipse cx="844.4" cy="272.4" rx="7.6" ry="16.9" fill="#fff"/><path d="M842.6,256.6 Q848.8,263 848.4,272.4 Q848.8,282 842.6,288.2" stroke="#F0709A" stroke-width="0.6" fill="none"/><circle cx="864" cy="284.6" r="4.6" fill="none" stroke="#D7DDEC" stroke-width="2.4" stroke-dasharray="2 1.3"/><circle cx="864" cy="284.6" r="3.6" fill="none" stroke="#D7DDEC" stroke-width="1.6"/><rect x="848.2" y="260.8" width="16" height="22" rx="1.2" fill="#EAF1FA" stroke="#7C75C6" stroke-width="0.6"/><path d="M859,262 v19 M862,262 v19" stroke="#D4E0F2" stroke-width="0.8"/><path d="M845.4,263.4 h11.6 q1.3,0 1.3,1.3 v9.8 q0,1.3 -1.3,1.3 h-3 l1,3 l-3.4,-3 h-6.2 q-1.3,0 -1.3,-1.3 v-9.8 q0,-1.3 1.3,-1.3 z" fill="#A668C4"/><text x="851.2" y="273.4" font-size="8.6" font-weight="bold" fill="#fff" text-anchor="middle" font-family="'Liberation Sans', 'Noto Sans CJK SC', sans-serif">文</text><path d="M858.4,252 h11.6 q1.3,0 1.3,1.3 v9.8 q0,1.3 -1.3,1.3 h-7.4 l-2.6,3.4 l0.4,-3.4 h-2 q-1.3,0 -1.3,-1.3 v-9.8 q0,-1.3 1.3,-1.3 z" fill="#F58A2C"/><text x="864.2" y="262.4" font-size="10" font-weight="bold" fill="#fff" text-anchor="middle">A</text><path d="M843.4,259.4 Q845,248 855.6,248.8" stroke="#F7A23B" stroke-width="0.9" fill="none"/><path d="M855,247 l2.6,2 l-2.9,1.4 z" fill="#F7A23B"/><path d="M870.4,267 Q871.6,277 862,278" stroke="#B48AD0" stroke-width="0.9" fill="none"/><path d="M862.6,276.4 l-2.6,1.8 l2.9,1.4 z" fill="#A668C4"/>
<path d="M918.2,201.8 L947.5,202.6 L945.8,226.2 L915.8,226.2 Z" fill="#F1F2F9" stroke="#B9BDE8" stroke-width="0.9" stroke-linejoin="round"/><path d="M918.2,201.8 L915.8,226.2" stroke="#8E95DA" stroke-width="1.2"/><rect x="921.4" y="203.8" width="6.2" height="6.2" fill="#FAFAFE" stroke="#9DA3DC" stroke-width="0.9"/><rect x="930.4" y="203.8" width="6.2" height="6.2" fill="#FAFAFE" stroke="#9DA3DC" stroke-width="0.9"/><rect x="939.3" y="203.8" width="6.2" height="6.2" fill="#FAFAFE" stroke="#9DA3DC" stroke-width="0.9"/><rect x="920.4" y="214.6" width="6.2" height="6.4" fill="#FAFAFE" stroke="#9DA3DC" stroke-width="0.9"/><rect x="929.4" y="214.6" width="6.2" height="6.4" fill="#FAFAFE" stroke="#9DA3DC" stroke-width="0.9"/><rect x="938.4" y="214.6" width="6.2" height="6.4" fill="#FAFAFE" stroke="#9DA3DC" stroke-width="0.9"/><path d="M948.4,201 L953.8,201.6 L951.2,226.8 L945.6,226 Z" fill="#DCE2F6" stroke="#1B2080" stroke-width="0.8" stroke-linejoin="round"/><path d="M950.2,202 L947.8,226 M951.6,202 L949.4,226.4" stroke="#B9C2EC" stroke-width="0.6"/><ellipse cx="950" cy="199.6" rx="2" ry="1.6" fill="#151A6E"/><path d="M932.2,228.6 h7.2 l0.6,3.2 h-8.6 z" fill="#1B2080"/><rect x="926.3" y="231.6" width="18" height="1.5" rx="0.7" fill="#1B2080"/>
<rect x="1004.9" y="247.2" width="15.3" height="11" rx="3" fill="#EE1C1C"/><path d="M1010.4,250 l4.8,2.7 l-4.8,2.7 z" fill="#fff"/><rect x="1032.6" y="246.4" width="8.3" height="13" fill="#D4E0F5" stroke="#5B86D0" stroke-width="0.5"/><path d="M1033,248.6 h7.6 M1033,250.6 h7.6 M1033,252.6 h7.6 M1033,254.6 h7.6 M1033,256.6 h7.6 M1036.2,246.6 v12.6 M1038.6,246.6 v12.6" stroke="#7FA2DD" stroke-width="0.4"/><path d="M1024.8,246.8 L1033.8,245.4 V260.7 L1024.8,259.2 Z" fill="#2B5DB8"/><text x="1029.3" y="256.2" font-size="7.4" font-weight="bold" fill="#fff" text-anchor="middle" textLength="6.6" lengthAdjust="spacingAndGlyphs">W</text><path d="M1006.9,264.3 h8.2 l3.6,3.6 v11.4 h-11.8 z" fill="#ECECE5"/><path d="M1015.1,264.3 l3.6,3.6 h-3.6 z" fill="#D5D5CC"/><path d="M1012.4,266.6 q1.2,3.2 -0.2,6.4 q-1.2,2 -2.4,2.4 M1012.2,270 q1.6,2.6 4.4,2.8 M1010.4,274.6 q2.6,-1.8 6,-1.8" stroke="#D8222E" stroke-width="1" fill="none" stroke-linecap="round"/><rect x="1006.9" y="275.2" width="11.8" height="4.1" fill="#C8202C"/><text x="1012.8" y="278.7" font-size="3.8" font-weight="bold" fill="#fff" text-anchor="middle">PDF</text><rect x="1027.5" y="264.5" width="11.2" height="14.4" rx="1.6" fill="#FDF4F1" stroke="#D9502F" stroke-width="0.7"/><path d="M1027.6,267 h11 M1027.6,269.4 h11 M1031,264.6 v7 M1035,264.6 v7" stroke="#E99A86" stroke-width="0.5"/><rect x="1027" y="271.6" width="12.2" height="4.6" fill="#C9421F"/><text x="1033.1" y="275.3" font-size="3.8" font-weight="bold" fill="#fff" text-anchor="middle">PPT</text>
<rect x="1083.6" y="205.2" width="14.4" height="24.2" fill="#FCFCFD" stroke="#E4E6EA" stroke-width="0.5"/><rect x="1086.4" y="209" width="8" height="16.6" fill="#F1F2F4" stroke="#E4E6EA" stroke-width="0.4"/><rect x="1116.8" y="204.3" width="19.8" height="12.8" fill="#FDFDFE" stroke="#ECEDF0" stroke-width="0.5"/><rect x="1122.5" y="209.2" width="8.8" height="2.6" fill="#DADDE0"/><rect x="1088.3" y="210" width="33.8" height="34.3" rx="1" fill="#fff" stroke="#DCDEE3" stroke-width="0.7"/><rect x="1090.8" y="211.6" width="3" height="1" fill="#333"/><rect x="1099" y="211.4" width="10.4" height="1.4" fill="#333"/><path d="M1091.5,214.3 h29" stroke="#E6E7EA" stroke-width="0.5"/><rect x="1091" y="216.2" width="1" height="1" fill="#666"/><path d="M1094,216.79999999999998 h23 M1094,217.79999999999998 h8" stroke="#CFD1D6" stroke-width="0.5"/><rect x="1093" y="218.9" width="2.6" height="1" fill="#8A8D94"/><path d="M1097.6,219.4 h7" stroke="#D5D7DB" stroke-width="0.5"/><rect x="1093" y="221.2" width="2.6" height="1" fill="#8A8D94"/><path d="M1097.6,221.7 h19" stroke="#D5D7DB" stroke-width="0.5"/><rect x="1093" y="223.5" width="2.6" height="1" fill="#8A8D94"/><path d="M1097.6,224 h9" stroke="#D5D7DB" stroke-width="0.5"/><rect x="1093" y="225.8" width="2.6" height="1" fill="#8A8D94"/><path d="M1097.6,226.3 h1.5" stroke="#D5D7DB" stroke-width="0.5"/><rect x="1091" y="229.2" width="1" height="1" fill="#666"/><path d="M1094,229.79999999999998 h23 M1094,230.79999999999998 h8" stroke="#CFD1D6" stroke-width="0.5"/><rect x="1093" y="231.9" width="2.6" height="1" fill="#8A8D94"/><path d="M1097.6,232.4 h7" stroke="#D5D7DB" stroke-width="0.5"/><rect x="1093" y="234.2" width="2.6" height="1" fill="#8A8D94"/><path d="M1097.6,234.7 h19" stroke="#D5D7DB" stroke-width="0.5"/><rect x="1093" y="236.5" width="2.6" height="1" fill="#8A8D94"/><path d="M1097.6,237 h9" stroke="#D5D7DB" stroke-width="0.5"/><rect x="1093" y="238.8" width="2.6" height="1" fill="#8A8D94"/><path d="M1097.6,239.3 h1.5" stroke="#D5D7DB" stroke-width="0.5"/><rect x="1108.5" y="239" width="8.3" height="3.1" rx="1.55" fill="#F0503C"/><rect x="1110.6" y="240.2" width="4" height="0.7" fill="#F9B4A8"/>
<defs><radialGradient id="emo" cx="0.5" cy="0.4" r="0.6"><stop offset="0" stop-color="#FFD04A"/><stop offset="0.7" stop-color="#FDB62B"/><stop offset="1" stop-color="#F3921B"/></radialGradient></defs><circle cx="1018.6" cy="393.6" r="12.4" fill="url(#emo)"/><circle cx="1012.8" cy="389.7" r="5" fill="#FFF3E0"/><circle cx="1012.8" cy="389.7" r="4.2" fill="#3A1A2A"/><circle cx="1014.0999999999999" cy="388.2" r="1.5" fill="#fff"/><circle cx="1011.4" cy="391.3" r="0.8" fill="#fff"/><circle cx="1024.3" cy="389.1" r="5" fill="#FFF3E0"/><circle cx="1024.3" cy="389.1" r="4.2" fill="#3A1A2A"/><circle cx="1025.6" cy="387.6" r="1.5" fill="#fff"/><circle cx="1022.9" cy="390.70000000000005" r="0.8" fill="#fff"/><path d="M1015.6,399 q2.9,-3 5.8,0" stroke="#5A2A1A" stroke-width="1.2" fill="none" stroke-linecap="round"/><path d="M1027.8,392.8 q3.2,3.6 3.2,5.6 a3.2,3.2 0 0 1 -6.4,0 q0,-2 3.2,-5.6 z" fill="#5EB8F0"/>
<path d="M1084.4,390.4 L1097,386.4 L1101.6,405.6 L1089.6,408 Z" fill="#FAFAFA" stroke="#E1E1E3" stroke-width="0.6"/><path d="M1087.6,392.6 l7,-2.2 M1088.6,396 l1,-0.3 M1089.6,399.4 l1,-0.3 M1090.6,402.8 l1,-0.3" stroke="#DCDCDF" stroke-width="0.5"/><path d="M1120.6,381 L1128,383.6 L1130.2,388 L1126,398.4 L1116.6,394.4 Z" fill="#F6F6F7" stroke="#E6E6E8" stroke-width="0.5"/><circle cx="1115.6" cy="388.8" r="4.2" fill="#FBFBFB" stroke="#E3E3E6" stroke-width="0.6"/><path d="M1114.4,389.8 l1.2,-2 l1,0.6" stroke="#F2A79B" stroke-width="0.6" fill="none"/><polygon points="1100.4,370.7 1101.07,372.48 1102.97,372.57 1101.48,373.75 1101.99,375.58 1100.4,374.53 1098.81,375.58 1099.32,373.75 1097.83,372.57 1099.73,372.48" fill="#EC5B45"/><polygon points="1106.3,368.5 1107.07,370.55 1109.25,370.64 1107.54,372 1108.12,374.11 1106.3,372.9 1104.48,374.11 1105.06,372 1103.35,370.64 1105.53,370.55" fill="#EC5B45"/><polygon points="1112.1,370.7 1112.77,372.48 1114.67,372.57 1113.18,373.75 1113.69,375.58 1112.1,374.53 1110.51,375.58 1111.02,373.75 1109.53,372.57 1111.43,372.48" fill="#EC5B45"/><path d="M1096,378.6 L1098.6,380.4 L1096.8,384 L1101.4,381.6 L1100,379 Z M1116.8,378.6 L1114.2,380.4 L1116,384 L1111.4,381.6 L1112.8,379 Z" fill="#2A3440"/><path d="M1098,376.4 Q1106.3,374.4 1114.6,376.4 L1114.6,380.4 Q1106.3,378.4 1098,380.4 Z" fill="#34424F"/><path d="M1100.6,378 Q1106.3,376.8 1112,378" stroke="#C9D1D8" stroke-width="0.8" fill="none"/><rect x="1099.9" y="409" width="17.2" height="14.8" fill="#E4E4E5"/><path d="M1104,410 v13.6 M1108.6,410 v13.6 M1113,410 v13.6" stroke="#D6D6D8" stroke-width="0.6"/><path d="M1099,392.6 Q1100.4,390.4 1104,390.2 L1109,390.4 Q1111.4,391 1112.4,394.4 L1114,400.6 L1110.4,403.4 L1099.6,403.4 Z" fill="#EC5B45"/><path d="M1104.6,390.6 L1108,390.6 L1108.8,401 L1105.4,401 Z" fill="#fff"/><rect x="1104.8" y="388" width="2.6" height="3" fill="#E9A98C"/><ellipse cx="1106.4" cy="386.2" rx="2.5" ry="3" fill="#F2B99C"/><path d="M1103.6,386.4 Q1102.8,382.4 1106,382.8 Q1109,382.6 1108.9,385 Q1106.8,384 1105,385 Z" fill="#20262E"/><path d="M1113.6,398.4 L1120.8,398 L1119.4,402 L1112.8,402.2 Z" fill="#DDE1E6"/><path d="M1100.4,400.4 L1108,402.6 L1114,401.4" stroke="#EC5B45" stroke-width="2.2" fill="none" stroke-linecap="round" stroke-linejoin="round"/><path d="M1100.6,406.8 Q1100,403.4 1104,403.2 L1114.4,403.6 Q1118.6,404.2 1118,408.4 L1112.6,419 L1109.8,418 L1113.4,409.8 L1103,410 Q1100.8,409.6 1100.6,406.8 Z" fill="#22272D"/><path d="M1109.6,418.2 L1112.6,419.4 L1114.4,422.6 L1112.6,423 L1108.8,420.2 Z" fill="#EC5B45"/><circle cx="1118.6" cy="408.2" r="0.9" fill="#EC5B45"/><path d="M1088.7,418.4 h7.4 l-1,4.8 h-5.4 z" fill="#EC5B45"/><path d="M1090.6,418.2 L1089,410.4 M1092.4,418.2 L1091.4,412 M1093.6,418.2 L1095.4,410 M1092.6,418 L1093.4,412.6" stroke="#2A3440" stroke-width="1.3" fill="none" stroke-linecap="round"/><rect x="1122.9" y="419.2" width="3" height="4" fill="#20262E"/><path d="M1124.4,419 L1124.4,412" stroke="#EC5B45" stroke-width="0.5"/><path d="M1121,411 q2.4,0.4 3,3 q-2.6,-0.2 -3,-3 z M1126.6,410 q0.6,2.6 -1.6,4 q-0.6,-2.4 1.6,-4 z M1127.6,415 q-0.8,2 -2.8,2 q0.6,-2 2.8,-2 z" fill="#EC5B45"/>
<g transform="translate(1019,503.4) scale(1)"><circle r="19.8" fill="#00A550"/><circle r="17.8" fill="none" stroke="#fff" stroke-width="1.1"/><path d="M-10,-0.5 L-7.1,-2.2 Q-3.5,0 -0.8,2.9 Q6,-6 14.3,-12.4 L15.9,-11.7 Q7,-2 0.7,10.2 Q-4,4 -10,-0.5 Z" fill="#00A550" stroke="#fff" stroke-width="1.25" stroke-linejoin="round"/></g>
<rect x="879.4" y="480.5" width="28.2" height="33.2" fill="#FEFEFE" stroke="#DCDCDC" stroke-width="0.6" stroke-dasharray="0.8 0.5"/><rect x="883.2" y="483" width="9.7" height="11.4" fill="#8CC466"/><path d="M885,494.4 q0,-3 3,-3 q3,0 3,3 z" fill="#1F2A30"/><ellipse cx="888" cy="489.2" rx="2.2" ry="2.7" fill="#E8A07A"/><path d="M885.6,488.4 q-0.4,-3.4 2.4,-3.6 q2.8,0.2 2.4,3.6 q-1,-1.6 -2.4,-1.6 q-1.4,0 -2.4,1.6 z" fill="#1B1B1B"/><rect x="894.3" y="483" width="10.4" height="3.9" fill="#4CA52E"/><path d="M894.4,489 h10 M894.4,490.4 h10 M894.4,491.8 h10 M894.4,493.2 h10 M894.4,498.4 h10 M894.4,499.8 h10 M894.4,505 h9 M894.4,506.2 h7" stroke="#D9D9DC" stroke-width="0.6"/><rect x="894.3" y="495.1" width="10.2" height="1.5" fill="#5DB040"/><rect x="894.3" y="501.9" width="9.8" height="1.5" fill="#5DB040"/><rect x="886.1" y="507.3" width="13.6" height="1.5" fill="#5DB040"/><rect x="882.9" y="496.2" width="2.2" height="2" fill="#F8E11A"/><path d="M886.2,496.8 h6.4 M886.2,497.7 h4" stroke="#D9D9DC" stroke-width="0.45"/><rect x="882.9" y="498.8" width="2.2" height="2" fill="#D9262C"/><path d="M886.2,499.40000000000003 h6.4 M886.2,500.3 h4" stroke="#D9D9DC" stroke-width="0.45"/><rect x="882.9" y="501.6" width="2.2" height="2" fill="#1FB5D6"/><path d="M886.2,502.20000000000005 h6.4 M886.2,503.1 h4" stroke="#D9D9DC" stroke-width="0.45"/><rect x="882.9" y="504.2" width="2.2" height="2" fill="#86BC25"/><path d="M886.2,504.8 h6.4 M886.2,505.7 h4" stroke="#D9D9DC" stroke-width="0.45"/><path d="M881.4,510.4 h24 M881.4,511.6 h24" stroke="#E4E4E6" stroke-width="0.5"/>
<path d="M729.6,527.4 q0.4,-5 4,-5.6 h4.4 q3.6,0.6 4,5.6 z" fill="#1E2430"/><path d="M732.1,527.4 v-5 l2,-0.8 h3 l2,0.8 v5 z" fill="#F4F5FA"/><path d="M734,521.4 l1.5,1.6 l1.5,-1.6 l-0.4,-1.6 h-2.2 z" fill="#F26B3A"/><rect x="733.2" y="524" width="4.6" height="2.2" fill="#DDE3F5"/><path d="M731.5,514.4 h7.8 v3 q0,3.4 -3.9,3.6 q-3.9,-0.2 -3.9,-3.6 z" fill="#F4C6C0"/><circle cx="731.2" cy="516.4" r="0.9" fill="#F4C6C0"/><circle cx="739.6" cy="516.4" r="0.9" fill="#F4C6C0"/><path d="M733.6,516.2 h0.9 M736.4,516.2 h0.9" stroke="#7A5A8A" stroke-width="0.6"/><path d="M730.4,514.8 q0,-6 5,-6.2 q5,0.2 5,6.2 z" fill="#F9B42C"/><rect x="730" y="514" width="10.8" height="1.2" rx="0.5" fill="#F5A01E"/><path d="M734.2,509 q1.2,-2 2.4,0 z" fill="#FBE33A"/><circle cx="735.4" cy="510.9" r="1.3" fill="#2E7BE8" stroke="#FBE33A" stroke-width="0.5"/><path d="M743.4,516.4 q2.4,1.6 4.6,1.4 q0.4,6.4 -4.6,9.4 q-5,-3 -4.6,-9.4 q2.2,0.2 4.6,-1.4 z" fill="#FAC62D" stroke="#4468CC" stroke-width="0.7"/><path d="M743.4,516.8 q2.2,1.4 4.2,1.3 q0.3,6 -4.2,8.7 z" fill="#F5A623" opacity="0.55"/><path d="M741.2,521.8 l1.6,1.6 l3,-3.2" stroke="#2FA84F" stroke-width="1.1" fill="none"/>
<rect x="1188" y="189.4" width="309.6" height="420" rx="11" ry="11" fill="#fff" stroke="#E1E2E5" stroke-width="4"/>
<text stroke="#1b1b1b" stroke-width="0.25" x="1199.8" y="215.9" font-size="8.1" font-weight="bold" fill="#1b1b1b" text-anchor="start" textLength="174.7" lengthAdjust="spacingAndGlyphs">XIPHIAS SOFTWARE TECHNOLOGIES PVT. LTD.</text>
<path d="M270,160 L300,150 L310,170 L335,155 L345,185 C400,230 480,250 580,320 L650,250 L660,235 L680,240 L690,215 L710,220 L720,195 L745,205 L755,175 L780,185 L790,155 L815,170 L830,150 L850,150 C830,200 780,240 690,310 C720,330 760,325 800,340 L795,355 C760,350 730,355 700,375 C650,410 560,415 470,395 C400,420 330,435 270,425 C330,405 400,390 430,370 C370,330 300,280 270,230 Z" fill="#E0AE1C" transform="translate(1425,192) scale(0.0651,0.0651)"/>
<text x="1442.8" y="226.6" font-size="5.4" font-weight="bold" fill="#E0AE1C" textLength="36.4" lengthAdjust="spacingAndGlyphs"><tspan font-size="7">X</tspan>IPHIAS</text>
<rect x="1190" y="232.6" width="305.7" height="16.4" fill="#1F3A70"/>
<text x="1342.6" y="243.34" font-size="8.2" font-weight="bold" fill="#F2C230" text-anchor="middle" textLength="71.5" lengthAdjust="spacingAndGlyphs">SAFETY PASSPORT</text>
<text x="1199.8" y="268.36" font-size="6.6" font-weight="bold" fill="#1b1b1b" text-anchor="start" textLength="19.6" lengthAdjust="spacingAndGlyphs">Name</text>
<text x="1252.5" y="268.36" font-size="6.6" font-weight="bold" fill="#1b1b1b" text-anchor="start" textLength="22.4" lengthAdjust="spacingAndGlyphs">: Kiran</text>
<text x="1199.8" y="283.36" font-size="6.6" font-weight="bold" fill="#1b1b1b" text-anchor="start" textLength="12.2" lengthAdjust="spacingAndGlyphs">Roll</text>
<text x="1252.5" y="283.36" font-size="6.6" font-weight="bold" fill="#1b1b1b" text-anchor="start" textLength="41.6" lengthAdjust="spacingAndGlyphs">: EMPLOYEE</text>
<text x="1199.8" y="298.96" font-size="6.6" font-weight="bold" fill="#1b1b1b" text-anchor="start" textLength="42" lengthAdjust="spacingAndGlyphs">Employee ID</text>
<text x="1252.5" y="298.96" font-size="6.6" font-weight="bold" fill="#1b1b1b" text-anchor="start" textLength="51.8" lengthAdjust="spacingAndGlyphs">: XIPSOFT23146</text>
<rect x="1419.3" y="255.9" width="62.6" height="68" rx="8" fill="#DFE0E2" stroke="#CBCCCF" stroke-width="0.8"/>
<clipPath id="phc"><rect x="1419.7" y="256.3" width="61.8" height="67.2" rx="7.6"/></clipPath>
<g clip-path="url(#phc)" fill="#BDBEC1"><ellipse cx="1450.6" cy="280" rx="14.6" ry="20.5"/><path d="M1441,292 h19.5 v10 c3,4 12,6 21.5,8.5 v16 h-63 v-16 c10,-2.5 19,-4.5 22,-8.5 z"/></g>
<path d="M1194.5,331 H1491.5 M1194.5,388.2 H1491.5" stroke="#BFC1C8" stroke-width="1"/>
<rect x="1194.3" y="336.2" width="297.4" height="28.8" fill="#fff" stroke="#D2D4DC" stroke-width="0.8"/>
<rect x="1194.8" y="350.4" width="296.4" height="14.2" fill="#F6F7F9"/>
<text x="1220" y="345.71" font-size="7" font-weight="bold" fill="#1b1b1b" text-anchor="middle" textLength="26.7" lengthAdjust="spacingAndGlyphs">Module</text>
<text stroke="#111" stroke-width="0.2" x="1220" y="359.81" font-size="7" font-weight="normal" fill="#111" text-anchor="middle" textLength="38.6" lengthAdjust="spacingAndGlyphs">QR Module</text>
<text x="1289.2" y="345.71" font-size="7" font-weight="bold" fill="#1b1b1b" text-anchor="middle" textLength="28.4" lengthAdjust="spacingAndGlyphs">Chapter</text>
<text stroke="#111" stroke-width="0.2" x="1289.2" y="359.81" font-size="7" font-weight="normal" fill="#111" text-anchor="middle" textLength="56.5" lengthAdjust="spacingAndGlyphs">QR Code Lesson</text>
<text x="1355" y="345.71" font-size="7" font-weight="bold" fill="#1b1b1b" text-anchor="middle" textLength="16.2" lengthAdjust="spacingAndGlyphs">Date</text>
<text stroke="#111" stroke-width="0.2" x="1355" y="359.81" font-size="7" font-weight="normal" fill="#111" text-anchor="middle" textLength="35" lengthAdjust="spacingAndGlyphs">30-11-2023</text>
<text x="1413.6" y="345.71" font-size="7" font-weight="bold" fill="#1b1b1b" text-anchor="middle" textLength="22.4" lengthAdjust="spacingAndGlyphs">Status</text>
<text stroke="#111" stroke-width="0.2" x="1413.6" y="359.81" font-size="7" font-weight="normal" fill="#111" text-anchor="middle" textLength="38.8" lengthAdjust="spacingAndGlyphs">Completed</text>
<text x="1469.7" y="345.71" font-size="7" font-weight="bold" fill="#1b1b1b" text-anchor="middle" textLength="19.6" lengthAdjust="spacingAndGlyphs">Score</text>
<text stroke="#111" stroke-width="0.2" x="1469.7" y="359.81" font-size="7" font-weight="normal" fill="#111" text-anchor="middle" textLength="17.5" lengthAdjust="spacingAndGlyphs">100%</text>
<text x="1199.8" y="407.92" font-size="7.6" font-weight="bold" fill="#A3195B" text-anchor="start" textLength="70.2" lengthAdjust="spacingAndGlyphs">LIFE SAVING RULES</text>
<text stroke="#111" stroke-width="0.22" x="1208.2" y="426.01" font-size="5.9" font-weight="normal" fill="#111" text-anchor="start" textLength="84.3" lengthAdjust="spacingAndGlyphs">Work with a valid work permit</text>
<text stroke="#111" stroke-width="0.22" x="1208.2" y="432.61" font-size="5.9" font-weight="normal" fill="#111" text-anchor="start" textLength="50.8" lengthAdjust="spacingAndGlyphs">whenever needed</text>
<text stroke="#111" stroke-width="0.22" x="1208.2" y="455.91" font-size="5.9" font-weight="normal" fill="#111" text-anchor="start" textLength="92.8" lengthAdjust="spacingAndGlyphs">Use fall protection when working</text>
<text stroke="#111" stroke-width="0.22" x="1208.2" y="462.51" font-size="5.9" font-weight="normal" fill="#111" text-anchor="start" textLength="25.2" lengthAdjust="spacingAndGlyphs">at height</text>
<text stroke="#111" stroke-width="0.22" x="1208.2" y="486.41" font-size="5.9" font-weight="normal" fill="#111" text-anchor="start" textLength="87" lengthAdjust="spacingAndGlyphs">Obtain a permit for entry into a</text>
<text stroke="#111" stroke-width="0.22" x="1208.2" y="493.01" font-size="5.9" font-weight="normal" fill="#111" text-anchor="start" textLength="42.9" lengthAdjust="spacingAndGlyphs">confined space</text>
<text stroke="#111" stroke-width="0.22" x="1208.2" y="515.81" font-size="5.9" font-weight="normal" fill="#111" text-anchor="start" textLength="83.2" lengthAdjust="spacingAndGlyphs">Make sure moving machinery</text>
<text stroke="#111" stroke-width="0.22" x="1208.2" y="522.41" font-size="5.9" font-weight="normal" fill="#111" text-anchor="start" textLength="29.4" lengthAdjust="spacingAndGlyphs">is guarded</text>
<text stroke="#111" stroke-width="0.22" x="1360.7" y="426.01" font-size="5.9" font-weight="normal" fill="#111" text-anchor="start" textLength="79.1" lengthAdjust="spacingAndGlyphs">Check equipment is isolated</text>
<text stroke="#111" stroke-width="0.22" x="1360.7" y="432.61" font-size="5.9" font-weight="normal" fill="#111" text-anchor="start" textLength="53.5" lengthAdjust="spacingAndGlyphs">before work begins</text>
<text stroke="#111" stroke-width="0.22" x="1360.7" y="455.91" font-size="5.9" font-weight="normal" fill="#111" text-anchor="start" textLength="77.4" lengthAdjust="spacingAndGlyphs">Obtain authorization before</text>
<text stroke="#111" stroke-width="0.22" x="1360.7" y="462.51" font-size="5.9" font-weight="normal" fill="#111" text-anchor="start" textLength="76" lengthAdjust="spacingAndGlyphs">disabling saftey equipment</text>
<text stroke="#111" stroke-width="0.22" x="1360.7" y="486.41" font-size="5.9" font-weight="normal" fill="#111" text-anchor="start" textLength="70" lengthAdjust="spacingAndGlyphs">Wear a seat belt in motor</text>
<text stroke="#111" stroke-width="0.22" x="1360.7" y="493.01" font-size="5.9" font-weight="normal" fill="#111" text-anchor="start" textLength="65.7" lengthAdjust="spacingAndGlyphs">vehicles when provided</text>
<text stroke="#111" stroke-width="0.22" x="1360.7" y="515.81" font-size="5.9" font-weight="normal" fill="#111" text-anchor="start" textLength="76.4" lengthAdjust="spacingAndGlyphs">Do not use alcohol or drugs</text>
<text stroke="#111" stroke-width="0.22" x="1360.7" y="522.41" font-size="5.9" font-weight="normal" fill="#111" text-anchor="start" textLength="20.5" lengthAdjust="spacingAndGlyphs">at work</text>
<defs><radialGradient id="rg1" cx="0.45" cy="0.3" r="0.8"><stop offset="0" stop-color="#79B850"/><stop offset="1" stop-color="#4A8A2C"/></radialGradient><radialGradient id="rg2" cx="0.45" cy="0.3" r="0.8"><stop offset="0" stop-color="#2F86D6"/><stop offset="1" stop-color="#1660AE"/></radialGradient><radialGradient id="rg4" cx="0.45" cy="0.3" r="0.8"><stop offset="0" stop-color="#E08A3A"/><stop offset="1" stop-color="#B5561A"/></radialGradient><radialGradient id="rg5" cx="0.45" cy="0.3" r="0.8"><stop offset="0" stop-color="#FFE066"/><stop offset="1" stop-color="#F5A11E"/></radialGradient><radialGradient id="rg6" cx="0.45" cy="0.3" r="0.8"><stop offset="0" stop-color="#E8583A"/><stop offset="1" stop-color="#A8261C"/></radialGradient><radialGradient id="rg7" cx="0.45" cy="0.3" r="0.8"><stop offset="0" stop-color="#7B8C9F"/><stop offset="1" stop-color="#41536A"/></radialGradient><radialGradient id="rg8" cx="0.45" cy="0.3" r="0.8"><stop offset="0" stop-color="#C9244C"/><stop offset="1" stop-color="#9C0E30"/></radialGradient></defs><circle cx="1323.2" cy="427.4" r="9.9" fill="url(#rg1)"/><g transform="translate(1323.2,427.4)" stroke="#fff" stroke-width="0.6" fill="none" opacity="0.9"><rect x="-4.6" y="-5" width="6" height="2.6" rx="1.2"/><path d="M-2.6,-2.4 v6.4 h6.6 v-5 h-3 M-0.6,0.6 h2 M0.2,2.2 h3"/></g><circle cx="1323.2" cy="457" r="9.9" fill="url(#rg2)"/><g transform="translate(1323.2,457)" fill="#fff" opacity="0.95"><circle cx="-0.6" cy="-6" r="1.3"/><path d="M-2,-4.4 h2.8 l2,-2.6 l0.8,0.6 l-1.8,3.4 v4 l-1,0 l0.8,7 h-1.2 l-1.2,-6 l-1.4,6 h-1.2 l1.2,-8 z"/><path d="M-3.6,1 l-1.6,7.6 M-1,1 l2.6,7.6 M-4.6,5 h4.8 M3,8 q2,-1.6 4,0 z" stroke="#fff" stroke-width="0.5" fill="none"/></g><circle cx="1323.2" cy="487.2" r="9.3" fill="#fff" stroke="#7A2A8F" stroke-width="1.3"/><path d="M1313.6000000000001,487.2 a9.6,9.6 0 0 1 19.2,0 z" fill="#7A2A8F"/><g transform="translate(1323.2,487.2)"><path d="M3.6,-6.6 v6.6 M2,-4.6 h3.2" stroke="#fff" stroke-width="0.9"/><circle cx="3.6" cy="-6.6" r="1" fill="#fff"/><ellipse cx="0.2" cy="4.2" rx="2.6" ry="3.6" fill="none" stroke="#7A2A8F" stroke-width="0.8"/><circle cx="0.2" cy="2.4" r="0.9" fill="#7A2A8F"/><path d="M-0.6,3.6 h1.6 v3.4 h-1.6 z" fill="#7A2A8F"/></g><circle cx="1323.2" cy="517.4" r="9.9" fill="url(#rg4)"/><g transform="translate(1323.2,517.4)" fill="#fff" opacity="0.95"><path d="M-7.6,3.6 h15.2 v-2 h-1.4 v-3.4 q-1.4,-2 -2.8,0 v3.4 h-1.4 l-1,-2.6 h-2.6 l-0.8,2.6 h-1.4 l-0.8,-3 h-1.4 l-1.6,5 z"/><circle cx="-5" cy="-2.6" r="0.9"/><circle cx="0.4" cy="-3" r="0.9"/><circle cx="4.6" cy="-4" r="0.9"/></g><circle cx="1464.8" cy="427.4" r="10.2" fill="#FFF1C2"/><circle cx="1464.8" cy="427.4" r="9.6" fill="url(#rg5)"/><g transform="translate(1464.8,427.4)" stroke="#fff" stroke-width="0.6" fill="none" opacity="0.9"><rect x="-5.6" y="-4" width="11" height="9" rx="0.8"/><path d="M-3.4,-4 v9 M-5.6,-1.4 h11 M0.6,0.4 h2.6 v3 h-2.6 z M1.8,-2 l2.4,-3.2"/></g><circle cx="1464.8" cy="457" r="9.9" fill="url(#rg6)"/><g transform="translate(1464.8,457)" stroke="#fff" stroke-width="0.6" fill="none" opacity="0.9"><circle cx="-2.6" cy="-3.6" r="1.6"/><path d="M-5.6,3 q0,-4 3,-4 q3,0 3,4 M-4.6,-5 h4 M0.6,1 l3.4,-3.4 l2,2 l-3.4,3.4 z M-3,4 l3,2.6 l2.4,-1.6"/><circle cx="3.4" cy="3.6" r="1.8"/></g><circle cx="1464.8" cy="487.2" r="9.9" fill="url(#rg7)"/><g transform="translate(1464.8,487.2)" stroke="#E6EBF0" stroke-width="0.7" fill="none" opacity="0.85" stroke-dasharray="1.6 0.8"><path d="M-6,4.6 L5.6,-5.6 M-6.6,1 L2,-6.6 M-3,6 L6.6,-2.4 M-4,-1 l3,3 M0,-4 l3,3"/></g><circle cx="1464.8" cy="517.4" r="9.9" fill="url(#rg8)"/><circle cx="1464.8" cy="517.4" r="6.6" fill="#fff"/><g transform="translate(1464.8,517.4)" stroke="#B3123A" fill="none"><circle r="5.6" stroke-width="1.3"/><path d="M-4,-4 L4,4" stroke-width="1.2"/><path d="M-0.8,-3.4 h1.6 v2 l1,1.4 v3 h-3.6 v-3 l1,-1.4 z M-3,3 h2" stroke-width="0.6"/></g>
<text stroke="#1b1b1b" stroke-width="0.22" x="1199.8" y="555.34" font-size="5.7" font-weight="bold" fill="#1b1b1b" text-anchor="start" textLength="57.6" lengthAdjust="spacingAndGlyphs">TL/HOD SIGNATURE</text>
<text stroke="#1b1b1b" stroke-width="0.22" x="1481.4" y="555.34" font-size="5.7" font-weight="bold" fill="#1b1b1b" text-anchor="end" textLength="43.4" lengthAdjust="spacingAndGlyphs">HR SIGNATURE</text>
<text stroke="#1b1b1b" stroke-width="0.22" x="1199.8" y="581.64" font-size="5.7" font-weight="bold" fill="#1b1b1b" text-anchor="start" textLength="123.2" lengthAdjust="spacingAndGlyphs">SAFETY PASSPORT ISSUE DATE : 30-11-2023</text>
</svg>
</body>
</html>
